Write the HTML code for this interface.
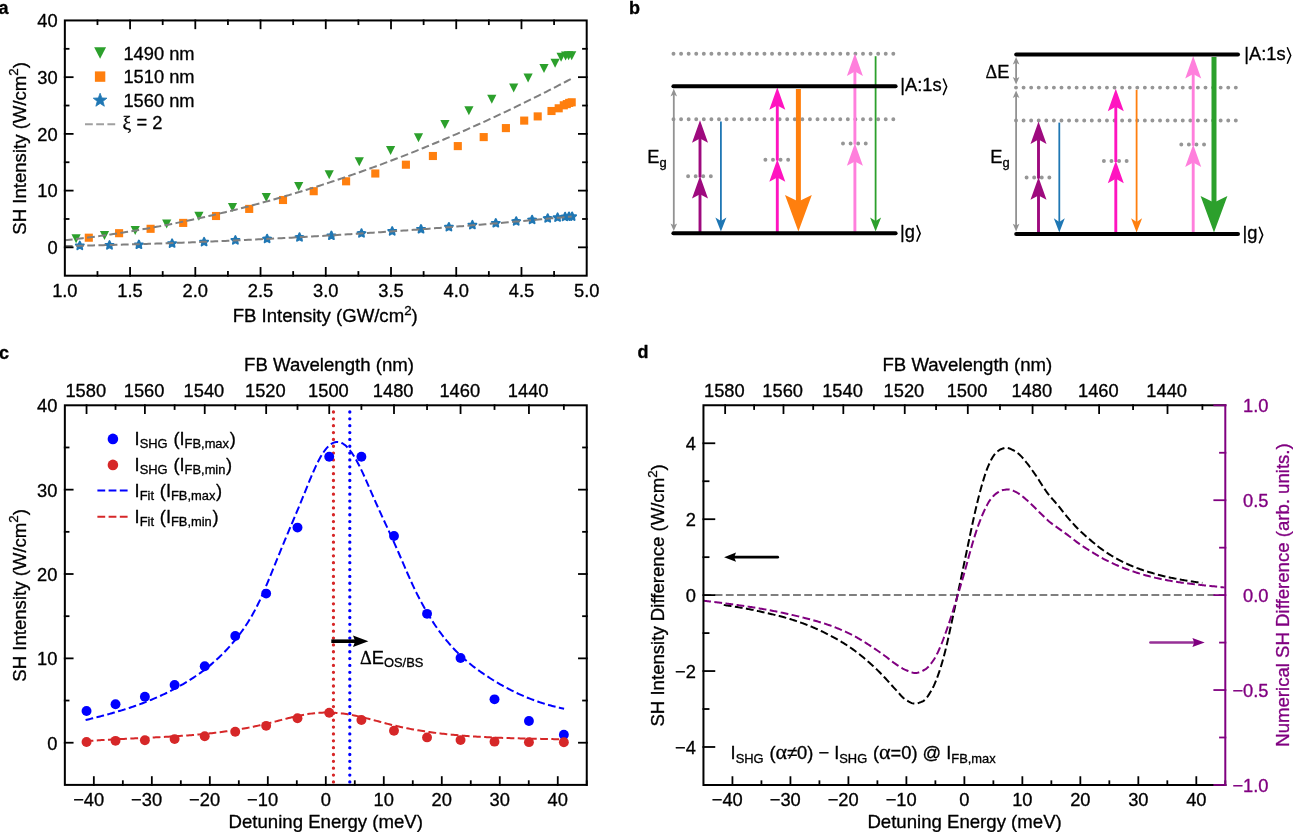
<!DOCTYPE html>
<html><head><meta charset="utf-8"><title>Figure</title>
<style>
html,body{margin:0;padding:0;background:#fff;}
body{width:1293px;height:832px;overflow:hidden;font-family:"Liberation Sans", sans-serif;}
svg{display:block;font-family:"Liberation Sans", sans-serif;will-change:transform;}
text{stroke-width:0.32px;stroke-linejoin:round;}
</style></head>
<body>
<svg width="1293" height="832" viewBox="0 0 1293 832">
<rect width="1293" height="832" fill="#fff"/>
<path d="M79.8 241.6 L80.96 244.2 L83.79 244.5 L81.68 246.41 L82.27 249.2 L79.8 247.77 L77.33 249.2 L77.92 246.41 L75.81 244.5 L78.64 244.2 Z" fill="#1f77b4" stroke="#1f77b4" stroke-width="1.9" stroke-linejoin="round"/>
<path d="M109.5 241.1 L110.66 243.7 L113.49 244 L111.38 245.91 L111.97 248.7 L109.5 247.27 L107.03 248.7 L107.62 245.91 L105.51 244 L108.34 243.7 Z" fill="#1f77b4" stroke="#1f77b4" stroke-width="1.9" stroke-linejoin="round"/>
<path d="M138.9 240.5 L140.06 243.1 L142.89 243.4 L140.78 245.31 L141.37 248.1 L138.9 246.67 L136.43 248.1 L137.02 245.31 L134.91 243.4 L137.74 243.1 Z" fill="#1f77b4" stroke="#1f77b4" stroke-width="1.9" stroke-linejoin="round"/>
<path d="M172.1 239.3 L173.26 241.9 L176.09 242.2 L173.98 244.11 L174.57 246.9 L172.1 245.47 L169.63 246.9 L170.22 244.11 L168.11 242.2 L170.94 241.9 Z" fill="#1f77b4" stroke="#1f77b4" stroke-width="1.9" stroke-linejoin="round"/>
<path d="M204.1 237.8 L205.26 240.4 L208.09 240.7 L205.98 242.61 L206.57 245.4 L204.1 243.97 L201.63 245.4 L202.22 242.61 L200.11 240.7 L202.94 240.4 Z" fill="#1f77b4" stroke="#1f77b4" stroke-width="1.9" stroke-linejoin="round"/>
<path d="M235.4 236.1 L236.56 238.7 L239.39 239 L237.28 240.91 L237.87 243.7 L235.4 242.27 L232.93 243.7 L233.52 240.91 L231.41 239 L234.24 238.7 Z" fill="#1f77b4" stroke="#1f77b4" stroke-width="1.9" stroke-linejoin="round"/>
<path d="M267.1 234.7 L268.26 237.3 L271.09 237.6 L268.98 239.51 L269.57 242.3 L267.1 240.87 L264.63 242.3 L265.22 239.51 L263.11 237.6 L265.94 237.3 Z" fill="#1f77b4" stroke="#1f77b4" stroke-width="1.9" stroke-linejoin="round"/>
<path d="M299.5 233.2 L300.66 235.8 L303.49 236.1 L301.38 238.01 L301.97 240.8 L299.5 239.37 L297.03 240.8 L297.62 238.01 L295.51 236.1 L298.34 235.8 Z" fill="#1f77b4" stroke="#1f77b4" stroke-width="1.9" stroke-linejoin="round"/>
<path d="M331.4 231.5 L332.56 234.1 L335.39 234.4 L333.28 236.31 L333.87 239.1 L331.4 237.67 L328.93 239.1 L329.52 236.31 L327.41 234.4 L330.24 234.1 Z" fill="#1f77b4" stroke="#1f77b4" stroke-width="1.9" stroke-linejoin="round"/>
<path d="M361.5 229.2 L362.66 231.8 L365.49 232.1 L363.38 234.01 L363.97 236.8 L361.5 235.37 L359.03 236.8 L359.62 234.01 L357.51 232.1 L360.34 231.8 Z" fill="#1f77b4" stroke="#1f77b4" stroke-width="1.9" stroke-linejoin="round"/>
<path d="M392.2 227.1 L393.36 229.7 L396.19 230 L394.08 231.91 L394.67 234.7 L392.2 233.27 L389.73 234.7 L390.32 231.91 L388.21 230 L391.04 229.7 Z" fill="#1f77b4" stroke="#1f77b4" stroke-width="1.9" stroke-linejoin="round"/>
<path d="M421 225 L422.16 227.6 L424.99 227.9 L422.88 229.81 L423.47 232.6 L421 231.17 L418.53 232.6 L419.12 229.81 L417.01 227.9 L419.84 227.6 Z" fill="#1f77b4" stroke="#1f77b4" stroke-width="1.9" stroke-linejoin="round"/>
<path d="M448.9 222.9 L450.06 225.5 L452.89 225.8 L450.78 227.71 L451.37 230.5 L448.9 229.07 L446.43 230.5 L447.02 227.71 L444.91 225.8 L447.74 225.5 Z" fill="#1f77b4" stroke="#1f77b4" stroke-width="1.9" stroke-linejoin="round"/>
<path d="M472.4 220.8 L473.56 223.4 L476.39 223.7 L474.28 225.61 L474.87 228.4 L472.4 226.97 L469.93 228.4 L470.52 225.61 L468.41 223.7 L471.24 223.4 Z" fill="#1f77b4" stroke="#1f77b4" stroke-width="1.9" stroke-linejoin="round"/>
<path d="M495.8 219 L496.96 221.6 L499.79 221.9 L497.68 223.81 L498.27 226.6 L495.8 225.17 L493.33 226.6 L493.92 223.81 L491.81 221.9 L494.64 221.6 Z" fill="#1f77b4" stroke="#1f77b4" stroke-width="1.9" stroke-linejoin="round"/>
<path d="M516.2 217.2 L517.36 219.8 L520.19 220.1 L518.08 222.01 L518.67 224.8 L516.2 223.37 L513.73 224.8 L514.32 222.01 L512.21 220.1 L515.04 219.8 Z" fill="#1f77b4" stroke="#1f77b4" stroke-width="1.9" stroke-linejoin="round"/>
<path d="M532.1 215.7 L533.26 218.3 L536.09 218.6 L533.98 220.51 L534.57 223.3 L532.1 221.87 L529.63 223.3 L530.22 220.51 L528.11 218.6 L530.94 218.3 Z" fill="#1f77b4" stroke="#1f77b4" stroke-width="1.9" stroke-linejoin="round"/>
<path d="M547.7 214.2 L548.86 216.8 L551.69 217.1 L549.58 219.01 L550.17 221.8 L547.7 220.37 L545.23 221.8 L545.82 219.01 L543.71 217.1 L546.54 216.8 Z" fill="#1f77b4" stroke="#1f77b4" stroke-width="1.9" stroke-linejoin="round"/>
<path d="M557.6 213.3 L558.76 215.9 L561.59 216.2 L559.48 218.11 L560.07 220.9 L557.6 219.47 L555.13 220.9 L555.72 218.11 L553.61 216.2 L556.44 215.9 Z" fill="#1f77b4" stroke="#1f77b4" stroke-width="1.9" stroke-linejoin="round"/>
<path d="M565.1 212.7 L566.26 215.3 L569.09 215.6 L566.98 217.51 L567.57 220.3 L565.1 218.87 L562.63 220.3 L563.22 217.51 L561.11 215.6 L563.94 215.3 Z" fill="#1f77b4" stroke="#1f77b4" stroke-width="1.9" stroke-linejoin="round"/>
<path d="M569 212.4 L570.16 215 L572.99 215.3 L570.88 217.21 L571.47 220 L569 218.57 L566.53 220 L567.12 217.21 L565.01 215.3 L567.84 215 Z" fill="#1f77b4" stroke="#1f77b4" stroke-width="1.9" stroke-linejoin="round"/>
<path d="M572.1 212.4 L573.26 215 L576.09 215.3 L573.98 217.21 L574.57 220 L572.1 218.57 L569.63 220 L570.22 217.21 L568.11 215.3 L570.94 215 Z" fill="#1f77b4" stroke="#1f77b4" stroke-width="1.9" stroke-linejoin="round"/>
<rect x="84.75" y="233.65" width="8.1" height="8.1" fill="#ff7f0e"/>
<rect x="115.05" y="229.15" width="8.1" height="8.1" fill="#ff7f0e"/>
<rect x="146.55" y="224.75" width="8.1" height="8.1" fill="#ff7f0e"/>
<rect x="179.15" y="218.85" width="8.1" height="8.1" fill="#ff7f0e"/>
<rect x="211.95" y="211.95" width="8.1" height="8.1" fill="#ff7f0e"/>
<rect x="245.15" y="204.85" width="8.1" height="8.1" fill="#ff7f0e"/>
<rect x="278.95" y="195.95" width="8.1" height="8.1" fill="#ff7f0e"/>
<rect x="309.65" y="187.15" width="8.1" height="8.1" fill="#ff7f0e"/>
<rect x="342.05" y="177.25" width="8.1" height="8.1" fill="#ff7f0e"/>
<rect x="371.25" y="169.45" width="8.1" height="8.1" fill="#ff7f0e"/>
<rect x="401.85" y="160.65" width="8.1" height="8.1" fill="#ff7f0e"/>
<rect x="428.85" y="151.95" width="8.1" height="8.1" fill="#ff7f0e"/>
<rect x="453.75" y="142.05" width="8.1" height="8.1" fill="#ff7f0e"/>
<rect x="479.65" y="133.05" width="8.1" height="8.1" fill="#ff7f0e"/>
<rect x="501.85" y="124.05" width="8.1" height="8.1" fill="#ff7f0e"/>
<rect x="520.15" y="116.55" width="8.1" height="8.1" fill="#ff7f0e"/>
<rect x="533.65" y="112.35" width="8.1" height="8.1" fill="#ff7f0e"/>
<rect x="547.45" y="106.95" width="8.1" height="8.1" fill="#ff7f0e"/>
<rect x="554.65" y="104.25" width="8.1" height="8.1" fill="#ff7f0e"/>
<rect x="559.75" y="101.25" width="8.1" height="8.1" fill="#ff7f0e"/>
<rect x="562.75" y="100.05" width="8.1" height="8.1" fill="#ff7f0e"/>
<rect x="565.15" y="98.85" width="8.1" height="8.1" fill="#ff7f0e"/>
<rect x="567.65" y="98.25" width="8.1" height="8.1" fill="#ff7f0e"/>
<path d="M71.5 234.3 L80.7 234.3 L76.1 243.3 Z" fill="#2ca02c"/>
<path d="M99.9 230.9 L109.1 230.9 L104.5 239.9 Z" fill="#2ca02c"/>
<path d="M130.6 225.9 L139.8 225.9 L135.2 234.9 Z" fill="#2ca02c"/>
<path d="M162.1 219.6 L171.3 219.6 L166.7 228.6 Z" fill="#2ca02c"/>
<path d="M194.3 211.7 L203.5 211.7 L198.9 220.7 Z" fill="#2ca02c"/>
<path d="M227.9 202.9 L237.1 202.9 L232.5 211.9 Z" fill="#2ca02c"/>
<path d="M261.7 192.9 L270.9 192.9 L266.3 201.9 Z" fill="#2ca02c"/>
<path d="M294.1 182.1 L303.3 182.1 L298.7 191.1 Z" fill="#2ca02c"/>
<path d="M324.6 170.3 L333.8 170.3 L329.2 179.3 Z" fill="#2ca02c"/>
<path d="M354.7 157.2 L363.9 157.2 L359.3 166.2 Z" fill="#2ca02c"/>
<path d="M386 146.1 L395.2 146.1 L390.6 155.1 Z" fill="#2ca02c"/>
<path d="M413.9 133.2 L423.1 133.2 L418.5 142.2 Z" fill="#2ca02c"/>
<path d="M440.3 120 L449.5 120 L444.9 129 Z" fill="#2ca02c"/>
<path d="M464.3 106.2 L473.5 106.2 L468.9 115.2 Z" fill="#2ca02c"/>
<path d="M487.2 94.8 L496.4 94.8 L491.8 103.8 Z" fill="#2ca02c"/>
<path d="M509.1 83.4 L518.3 83.4 L513.7 92.4 Z" fill="#2ca02c"/>
<path d="M523.5 73.5 L532.7 73.5 L528.1 82.5 Z" fill="#2ca02c"/>
<path d="M539.4 64.1 L548.6 64.1 L544 73.1 Z" fill="#2ca02c"/>
<path d="M550.5 58.7 L559.7 58.7 L555.1 67.7 Z" fill="#2ca02c"/>
<path d="M556.5 52.7 L565.7 52.7 L561.1 61.7 Z" fill="#2ca02c"/>
<path d="M561 51.5 L570.2 51.5 L565.6 60.5 Z" fill="#2ca02c"/>
<path d="M564 51.2 L573.2 51.2 L568.6 60.2 Z" fill="#2ca02c"/>
<path d="M567.1 51.2 L576.3 51.2 L571.7 60.2 Z" fill="#2ca02c"/>
<path d="M64.85 240.27 L67.4 239.99 L69.94 239.7 L72.49 239.41 L75.04 239.12 L77.58 238.82 L80.13 238.51 L82.68 238.2 L85.23 237.88 L87.77 237.56 L90.32 237.23 L92.87 236.9 L95.41 236.56 L97.96 236.22 L100.51 235.87 L103.05 235.52 L105.6 235.16 L108.15 234.79 L110.7 234.42 L113.24 234.05 L115.79 233.66 L118.34 233.28 L120.88 232.88 L123.43 232.49 L125.98 232.08 L128.52 231.68 L131.07 231.26 L133.62 230.84 L136.17 230.42 L138.71 229.99 L141.26 229.55 L143.81 229.11 L146.35 228.67 L148.9 228.22 L151.45 227.76 L153.99 227.3 L156.54 226.83 L159.09 226.36 L161.63 225.88 L164.18 225.39 L166.73 224.91 L169.28 224.41 L171.82 223.91 L174.37 223.41 L176.92 222.89 L179.46 222.38 L182.01 221.86 L184.56 221.33 L187.1 220.8 L189.65 220.26 L192.2 219.72 L194.75 219.17 L197.29 218.61 L199.84 218.06 L202.39 217.49 L204.93 216.92 L207.48 216.35 L210.03 215.76 L212.57 215.18 L215.12 214.59 L217.67 213.99 L220.22 213.39 L222.76 212.78 L225.31 212.17 L227.86 211.55 L230.4 210.92 L232.95 210.29 L235.5 209.66 L238.04 209.02 L240.59 208.37 L243.14 207.72 L245.68 207.07 L248.23 206.41 L250.78 205.74 L253.33 205.07 L255.87 204.39 L258.42 203.7 L260.97 203.02 L263.51 202.32 L266.06 201.62 L268.61 200.92 L271.15 200.21 L273.7 199.49 L276.25 198.77 L278.8 198.04 L281.34 197.31 L283.89 196.58 L286.44 195.83 L288.98 195.09 L291.53 194.33 L294.08 193.57 L296.62 192.81 L299.17 192.04 L301.72 191.26 L304.27 190.48 L306.81 189.7 L309.36 188.91 L311.91 188.11 L314.45 187.31 L317 186.5 L319.55 185.69 L322.09 184.87 L324.64 184.05 L327.19 183.22 L329.73 182.38 L332.28 181.55 L334.83 180.7 L337.38 179.85 L339.92 178.99 L342.47 178.13 L345.02 177.27 L347.56 176.39 L350.11 175.52 L352.66 174.63 L355.2 173.75 L357.75 172.85 L360.3 171.95 L362.85 171.05 L365.39 170.14 L367.94 169.22 L370.49 168.3 L373.03 167.38 L375.58 166.45 L378.13 165.51 L380.67 164.57 L383.22 163.62 L385.77 162.67 L388.32 161.71 L390.86 160.75 L393.41 159.78 L395.96 158.8 L398.5 157.82 L401.05 156.84 L403.6 155.85 L406.14 154.85 L408.69 153.85 L411.24 152.84 L413.78 151.83 L416.33 150.81 L418.88 149.79 L421.43 148.76 L423.97 147.73 L426.52 146.69 L429.07 145.64 L431.61 144.6 L434.16 143.54 L436.71 142.48 L439.25 141.41 L441.8 140.34 L444.35 139.26 L446.9 138.18 L449.44 137.09 L451.99 136 L454.54 134.9 L457.08 133.8 L459.63 132.69 L462.18 131.58 L464.72 130.46 L467.27 129.33 L469.82 128.2 L472.37 127.06 L474.91 125.92 L477.46 124.78 L480.01 123.62 L482.55 122.47 L485.1 121.3 L487.65 120.13 L490.19 118.96 L492.74 117.78 L495.29 116.6 L497.83 115.41 L500.38 114.21 L502.93 113.01 L505.48 111.8 L508.02 110.59 L510.57 109.37 L513.12 108.15 L515.66 106.92 L518.21 105.69 L520.76 104.45 L523.3 103.21 L525.85 101.96 L528.4 100.7 L530.95 99.44 L533.49 98.18 L536.04 96.91 L538.59 95.63 L541.13 94.35 L543.68 93.06 L546.23 91.77 L548.77 90.47 L551.32 89.17 L553.87 87.86 L556.41 86.55 L558.96 85.23 L561.51 83.9 L564.06 82.57 L566.6 81.24 L569.15 79.89 L571.7 78.55" fill="none" stroke="#7f7f7f" stroke-width="2" stroke-dasharray="7.8 3.4" />
<path d="M64.85 246.04 L67.4 245.99 L69.94 245.94 L72.49 245.89 L75.04 245.83 L77.58 245.78 L80.13 245.72 L82.68 245.66 L85.23 245.61 L87.77 245.55 L90.32 245.49 L92.87 245.43 L95.41 245.36 L97.96 245.3 L100.51 245.24 L103.05 245.17 L105.6 245.11 L108.15 245.04 L110.7 244.97 L113.24 244.9 L115.79 244.83 L118.34 244.76 L120.88 244.69 L123.43 244.62 L125.98 244.54 L128.52 244.47 L131.07 244.39 L133.62 244.32 L136.17 244.24 L138.71 244.16 L141.26 244.08 L143.81 244 L146.35 243.92 L148.9 243.83 L151.45 243.75 L153.99 243.67 L156.54 243.58 L159.09 243.49 L161.63 243.41 L164.18 243.32 L166.73 243.23 L169.28 243.14 L171.82 243.05 L174.37 242.95 L176.92 242.86 L179.46 242.77 L182.01 242.67 L184.56 242.57 L187.1 242.48 L189.65 242.38 L192.2 242.28 L194.75 242.18 L197.29 242.08 L199.84 241.97 L202.39 241.87 L204.93 241.77 L207.48 241.66 L210.03 241.55 L212.57 241.45 L215.12 241.34 L217.67 241.23 L220.22 241.12 L222.76 241.01 L225.31 240.89 L227.86 240.78 L230.4 240.67 L232.95 240.55 L235.5 240.43 L238.04 240.32 L240.59 240.2 L243.14 240.08 L245.68 239.96 L248.23 239.84 L250.78 239.72 L253.33 239.59 L255.87 239.47 L258.42 239.34 L260.97 239.22 L263.51 239.09 L266.06 238.96 L268.61 238.83 L271.15 238.7 L273.7 238.57 L276.25 238.44 L278.8 238.31 L281.34 238.17 L283.89 238.04 L286.44 237.9 L288.98 237.76 L291.53 237.63 L294.08 237.49 L296.62 237.35 L299.17 237.21 L301.72 237.06 L304.27 236.92 L306.81 236.78 L309.36 236.63 L311.91 236.49 L314.45 236.34 L317 236.19 L319.55 236.04 L322.09 235.89 L324.64 235.74 L327.19 235.59 L329.73 235.44 L332.28 235.28 L334.83 235.13 L337.38 234.97 L339.92 234.82 L342.47 234.66 L345.02 234.5 L347.56 234.34 L350.11 234.18 L352.66 234.02 L355.2 233.85 L357.75 233.69 L360.3 233.53 L362.85 233.36 L365.39 233.19 L367.94 233.03 L370.49 232.86 L373.03 232.69 L375.58 232.52 L378.13 232.34 L380.67 232.17 L383.22 232 L385.77 231.82 L388.32 231.65 L390.86 231.47 L393.41 231.29 L395.96 231.12 L398.5 230.94 L401.05 230.76 L403.6 230.57 L406.14 230.39 L408.69 230.21 L411.24 230.02 L413.78 229.84 L416.33 229.65 L418.88 229.46 L421.43 229.28 L423.97 229.09 L426.52 228.9 L429.07 228.7 L431.61 228.51 L434.16 228.32 L436.71 228.12 L439.25 227.93 L441.8 227.73 L444.35 227.54 L446.9 227.34 L449.44 227.14 L451.99 226.94 L454.54 226.74 L457.08 226.53 L459.63 226.33 L462.18 226.13 L464.72 225.92 L467.27 225.72 L469.82 225.51 L472.37 225.3 L474.91 225.09 L477.46 224.88 L480.01 224.67 L482.55 224.46 L485.1 224.24 L487.65 224.03 L490.19 223.81 L492.74 223.6 L495.29 223.38 L497.83 223.16 L500.38 222.94 L502.93 222.72 L505.48 222.5 L508.02 222.28 L510.57 222.06 L513.12 221.83 L515.66 221.61 L518.21 221.38 L520.76 221.16 L523.3 220.93 L525.85 220.7 L528.4 220.47 L530.95 220.24 L533.49 220.01 L536.04 219.77 L538.59 219.54 L541.13 219.31 L543.68 219.07 L546.23 218.83 L548.77 218.59 L551.32 218.36 L553.87 218.12 L556.41 217.88 L558.96 217.63 L561.51 217.39 L564.06 217.15 L566.6 216.9 L569.15 216.66 L571.7 216.41" fill="none" stroke="#7f7f7f" stroke-width="2" stroke-dasharray="7.8 3.4" />
<rect x="64.85" y="20.45" width="521.85" height="255.25" fill="none" stroke="#000" stroke-width="2"/>
<line x1="130.08" y1="276.7" x2="130.08" y2="267" stroke="#000" stroke-width="1.8" />
<line x1="195.31" y1="276.7" x2="195.31" y2="267" stroke="#000" stroke-width="1.8" />
<line x1="260.54" y1="276.7" x2="260.54" y2="267" stroke="#000" stroke-width="1.8" />
<line x1="325.77" y1="276.7" x2="325.77" y2="267" stroke="#000" stroke-width="1.8" />
<line x1="391.01" y1="276.7" x2="391.01" y2="267" stroke="#000" stroke-width="1.8" />
<line x1="456.24" y1="276.7" x2="456.24" y2="267" stroke="#000" stroke-width="1.8" />
<line x1="521.47" y1="276.7" x2="521.47" y2="267" stroke="#000" stroke-width="1.8" />
<line x1="97.47" y1="276.7" x2="97.47" y2="271.1" stroke="#000" stroke-width="1.8" />
<line x1="162.7" y1="276.7" x2="162.7" y2="271.1" stroke="#000" stroke-width="1.8" />
<line x1="227.93" y1="276.7" x2="227.93" y2="271.1" stroke="#000" stroke-width="1.8" />
<line x1="293.16" y1="276.7" x2="293.16" y2="271.1" stroke="#000" stroke-width="1.8" />
<line x1="358.39" y1="276.7" x2="358.39" y2="271.1" stroke="#000" stroke-width="1.8" />
<line x1="423.62" y1="276.7" x2="423.62" y2="271.1" stroke="#000" stroke-width="1.8" />
<line x1="488.85" y1="276.7" x2="488.85" y2="271.1" stroke="#000" stroke-width="1.8" />
<line x1="554.08" y1="276.7" x2="554.08" y2="271.1" stroke="#000" stroke-width="1.8" />
<line x1="130.08" y1="19.45" x2="130.08" y2="29.15" stroke="#000" stroke-width="1.8" />
<line x1="195.31" y1="19.45" x2="195.31" y2="29.15" stroke="#000" stroke-width="1.8" />
<line x1="260.54" y1="19.45" x2="260.54" y2="29.15" stroke="#000" stroke-width="1.8" />
<line x1="325.77" y1="19.45" x2="325.77" y2="29.15" stroke="#000" stroke-width="1.8" />
<line x1="391.01" y1="19.45" x2="391.01" y2="29.15" stroke="#000" stroke-width="1.8" />
<line x1="456.24" y1="19.45" x2="456.24" y2="29.15" stroke="#000" stroke-width="1.8" />
<line x1="521.47" y1="19.45" x2="521.47" y2="29.15" stroke="#000" stroke-width="1.8" />
<line x1="97.47" y1="19.45" x2="97.47" y2="25.05" stroke="#000" stroke-width="1.8" />
<line x1="162.7" y1="19.45" x2="162.7" y2="25.05" stroke="#000" stroke-width="1.8" />
<line x1="227.93" y1="19.45" x2="227.93" y2="25.05" stroke="#000" stroke-width="1.8" />
<line x1="293.16" y1="19.45" x2="293.16" y2="25.05" stroke="#000" stroke-width="1.8" />
<line x1="358.39" y1="19.45" x2="358.39" y2="25.05" stroke="#000" stroke-width="1.8" />
<line x1="423.62" y1="19.45" x2="423.62" y2="25.05" stroke="#000" stroke-width="1.8" />
<line x1="488.85" y1="19.45" x2="488.85" y2="25.05" stroke="#000" stroke-width="1.8" />
<line x1="554.08" y1="19.45" x2="554.08" y2="25.05" stroke="#000" stroke-width="1.8" />
<line x1="63.85" y1="247.34" x2="73.55" y2="247.34" stroke="#000" stroke-width="1.8" />
<line x1="63.85" y1="190.62" x2="73.55" y2="190.62" stroke="#000" stroke-width="1.8" />
<line x1="63.85" y1="133.89" x2="73.55" y2="133.89" stroke="#000" stroke-width="1.8" />
<line x1="63.85" y1="77.17" x2="73.55" y2="77.17" stroke="#000" stroke-width="1.8" />
<line x1="63.85" y1="218.98" x2="69.45" y2="218.98" stroke="#000" stroke-width="1.8" />
<line x1="63.85" y1="162.26" x2="69.45" y2="162.26" stroke="#000" stroke-width="1.8" />
<line x1="63.85" y1="105.53" x2="69.45" y2="105.53" stroke="#000" stroke-width="1.8" />
<line x1="63.85" y1="48.81" x2="69.45" y2="48.81" stroke="#000" stroke-width="1.8" />
<line x1="587.7" y1="247.34" x2="578" y2="247.34" stroke="#000" stroke-width="1.8" />
<line x1="587.7" y1="190.62" x2="578" y2="190.62" stroke="#000" stroke-width="1.8" />
<line x1="587.7" y1="133.89" x2="578" y2="133.89" stroke="#000" stroke-width="1.8" />
<line x1="587.7" y1="77.17" x2="578" y2="77.17" stroke="#000" stroke-width="1.8" />
<line x1="587.7" y1="218.98" x2="582.1" y2="218.98" stroke="#000" stroke-width="1.8" />
<line x1="587.7" y1="162.26" x2="582.1" y2="162.26" stroke="#000" stroke-width="1.8" />
<line x1="587.7" y1="105.53" x2="582.1" y2="105.53" stroke="#000" stroke-width="1.8" />
<line x1="587.7" y1="48.81" x2="582.1" y2="48.81" stroke="#000" stroke-width="1.8" />
<text x="64.85" y="297.3" font-size="18.3" text-anchor="middle" fill="#000" stroke="#000" font-weight="normal" >1.0</text>
<text x="130.08" y="297.3" font-size="18.3" text-anchor="middle" fill="#000" stroke="#000" font-weight="normal" >1.5</text>
<text x="195.31" y="297.3" font-size="18.3" text-anchor="middle" fill="#000" stroke="#000" font-weight="normal" >2.0</text>
<text x="260.54" y="297.3" font-size="18.3" text-anchor="middle" fill="#000" stroke="#000" font-weight="normal" >2.5</text>
<text x="325.77" y="297.3" font-size="18.3" text-anchor="middle" fill="#000" stroke="#000" font-weight="normal" >3.0</text>
<text x="391.01" y="297.3" font-size="18.3" text-anchor="middle" fill="#000" stroke="#000" font-weight="normal" >3.5</text>
<text x="456.24" y="297.3" font-size="18.3" text-anchor="middle" fill="#000" stroke="#000" font-weight="normal" >4.0</text>
<text x="521.47" y="297.3" font-size="18.3" text-anchor="middle" fill="#000" stroke="#000" font-weight="normal" >4.5</text>
<text x="586.7" y="297.3" font-size="18.3" text-anchor="middle" fill="#000" stroke="#000" font-weight="normal" >5.0</text>
<text x="57.6" y="254.04" font-size="18.3" text-anchor="end" fill="#000" stroke="#000" font-weight="normal" >0</text>
<text x="57.6" y="197.32" font-size="18.3" text-anchor="end" fill="#000" stroke="#000" font-weight="normal" >10</text>
<text x="57.6" y="140.59" font-size="18.3" text-anchor="end" fill="#000" stroke="#000" font-weight="normal" >20</text>
<text x="57.6" y="83.87" font-size="18.3" text-anchor="end" fill="#000" stroke="#000" font-weight="normal" >30</text>
<text x="57.6" y="27.15" font-size="18.3" text-anchor="end" fill="#000" stroke="#000" font-weight="normal" >40</text>
<text x="325.2" y="322.4" font-size="18.6" text-anchor="middle" fill="#000" stroke="#000" font-weight="normal" >FB Intensity (GW/cm<tspan font-size="13.3" dy="-7.3">2</tspan><tspan dy="7.3" font-size="1">&#8203;</tspan>)</text>
<text transform="translate(25.7 148.4) rotate(-90)" font-size="18.6" text-anchor="middle" fill="#000" stroke="#000">SH Intensity (W/cm<tspan font-size="13.3" dy="-7.3">2</tspan><tspan dy="7.3" font-size="1">&#8203;</tspan>)</text>
<path d="M94.15 47.3 L106.05 47.3 L100.1 58.7 Z" fill="#2ca02c"/>
<rect x="94.9" y="71.4" width="10.4" height="10.4" fill="#ff7f0e"/>
<path d="M100.1 93.2 L101.88 97.95 L106.95 98.18 L102.98 101.33 L104.33 106.22 L100.1 103.42 L95.87 106.22 L97.22 101.33 L93.25 98.18 L98.32 97.95 Z" fill="#1f77b4" stroke="#1f77b4" stroke-width="0.8" stroke-linejoin="round"/>
<line x1="85" y1="124.15" x2="115.5" y2="124.15" stroke="#a0a0a0" stroke-width="2" stroke-dasharray="7.8 3.4"/>
<text x="123.4" y="59.6" font-size="18.3" text-anchor="start" fill="#000" stroke="#000" font-weight="normal" >1490 nm</text>
<text x="123.4" y="83.2" font-size="18.3" text-anchor="start" fill="#000" stroke="#000" font-weight="normal" >1510 nm</text>
<text x="123.4" y="106.8" font-size="18.3" text-anchor="start" fill="#000" stroke="#000" font-weight="normal" >1560 nm</text>
<text x="122.6" y="129.3" font-size="18.3" stroke="#000"><tspan font-family='"Liberation Serif", serif' font-size="19.5">&#958;</tspan> <tspan dy="-1.2">=</tspan><tspan dy="1.2"> 2</tspan></text>
<text x="-1.4" y="14.4" font-size="18" text-anchor="start" fill="#000" stroke="#000" font-weight="bold" >a</text>
<path d="M673.5 53.7 H893.33" stroke="#969696" stroke-width="3.95" stroke-linecap="round" stroke-dasharray="0 7.58" fill="none"/>
<path d="M673.5 119.3 H893.33" stroke="#969696" stroke-width="3.95" stroke-linecap="round" stroke-dasharray="0 7.58" fill="none"/>
<path d="M688.1 176.2 H710.85" stroke="#969696" stroke-width="3.95" stroke-linecap="round" stroke-dasharray="0 7.58" fill="none"/>
<path d="M765.4 159.8 H788.15" stroke="#969696" stroke-width="3.95" stroke-linecap="round" stroke-dasharray="0 7.58" fill="none"/>
<path d="M843 143.5 H865.75" stroke="#969696" stroke-width="3.95" stroke-linecap="round" stroke-dasharray="0 7.58" fill="none"/>
<line x1="700" y1="232.3" x2="700" y2="193.7" stroke="#9e0a7e" stroke-width="2.9" />
<path d="M700 176.1 L692 198.6 L700 194.2 L708 198.6 Z" fill="#9e0a7e"/>
<line x1="700" y1="177.4" x2="700" y2="137.9" stroke="#9e0a7e" stroke-width="2.9" />
<path d="M700 120.3 L692 142.8 L700 138.4 L708 142.8 Z" fill="#9e0a7e"/>
<line x1="777.3" y1="232.3" x2="777.3" y2="176.9" stroke="#ff14c0" stroke-width="2.9" />
<path d="M777.3 159.3 L769.3 181.8 L777.3 177.4 L785.3 181.8 Z" fill="#ff14c0"/>
<line x1="777.3" y1="160.6" x2="777.3" y2="104.9" stroke="#ff14c0" stroke-width="2.9" />
<path d="M777.3 87.3 L769.3 109.8 L777.3 105.4 L785.3 109.8 Z" fill="#ff14c0"/>
<line x1="854.9" y1="232.3" x2="854.9" y2="160.9" stroke="#ff7fdc" stroke-width="2.9" />
<path d="M854.9 143.3 L846.9 165.8 L854.9 161.4 L862.9 165.8 Z" fill="#ff7fdc"/>
<line x1="854.9" y1="144.6" x2="854.9" y2="71.1" stroke="#ff7fdc" stroke-width="2.9" />
<path d="M854.9 53.5 L846.9 76 L854.9 71.6 L862.9 76 Z" fill="#ff7fdc"/>
<line x1="720.9" y1="121.4" x2="720.9" y2="221.5" stroke="#1f77b4" stroke-width="1.8" />
<path d="M720.9 231.6 L715.4 217.4 L720.9 221 L726.4 217.4 Z" fill="#1f77b4"/>
<line x1="798.4" y1="89" x2="798.4" y2="202.1" stroke="#ff7f0e" stroke-width="5" />
<path d="M798.4 231.6 L785 195 L798.4 201.6 L811.8 195 Z" fill="#ff7f0e"/>
<line x1="875.6" y1="56.2" x2="875.6" y2="221.5" stroke="#2ca02c" stroke-width="1.8" />
<path d="M875.6 231.6 L870.1 217.4 L875.6 221 L881.1 217.4 Z" fill="#2ca02c"/>
<line x1="673.8" y1="91.8" x2="673.8" y2="228" stroke="#929292" stroke-width="1.8" />
<path d="M673.8 88.8 L670.5 96.4 L673.8 94.6 L677.1 96.4 Z" fill="#929292"/>
<path d="M673.8 231 L670.5 223.4 L673.8 225.2 L677.1 223.4 Z" fill="#929292"/>
<line x1="673.4" y1="86.3" x2="895.6" y2="86.3" stroke="#000" stroke-width="4" stroke-linecap="round"/>
<line x1="673.4" y1="233.3" x2="895.6" y2="233.3" stroke="#000" stroke-width="4" stroke-linecap="round"/>
<path d="M1016 87.6 H1235.83" stroke="#969696" stroke-width="3.95" stroke-linecap="round" stroke-dasharray="0 7.58" fill="none"/>
<path d="M1016 120.5 H1235.83" stroke="#969696" stroke-width="3.95" stroke-linecap="round" stroke-dasharray="0 7.58" fill="none"/>
<path d="M1026.6 177.4 H1049.35" stroke="#969696" stroke-width="3.95" stroke-linecap="round" stroke-dasharray="0 7.58" fill="none"/>
<path d="M1103.9 160.9 H1126.65" stroke="#969696" stroke-width="3.95" stroke-linecap="round" stroke-dasharray="0 7.58" fill="none"/>
<path d="M1181.3 144.5 H1204.05" stroke="#969696" stroke-width="3.95" stroke-linecap="round" stroke-dasharray="0 7.58" fill="none"/>
<line x1="1038.5" y1="233" x2="1038.5" y2="194.9" stroke="#9e0a7e" stroke-width="2.9" />
<path d="M1038.5 177.3 L1030.5 199.8 L1038.5 195.4 L1046.5 199.8 Z" fill="#9e0a7e"/>
<line x1="1038.5" y1="178.6" x2="1038.5" y2="139.1" stroke="#9e0a7e" stroke-width="2.9" />
<path d="M1038.5 121.5 L1030.5 144 L1038.5 139.6 L1046.5 144 Z" fill="#9e0a7e"/>
<line x1="1115.8" y1="233" x2="1115.8" y2="178.3" stroke="#ff14c0" stroke-width="2.9" />
<path d="M1115.8 160.7 L1107.8 183.2 L1115.8 178.8 L1123.8 183.2 Z" fill="#ff14c0"/>
<line x1="1115.8" y1="162" x2="1115.8" y2="106.3" stroke="#ff14c0" stroke-width="2.9" />
<path d="M1115.8 88.7 L1107.8 111.2 L1115.8 106.8 L1123.8 111.2 Z" fill="#ff14c0"/>
<line x1="1193.2" y1="233" x2="1193.2" y2="162.1" stroke="#ff7fdc" stroke-width="2.9" />
<path d="M1193.2 144.5 L1185.2 167 L1193.2 162.6 L1201.2 167 Z" fill="#ff7fdc"/>
<line x1="1193.2" y1="145.8" x2="1193.2" y2="73.5" stroke="#ff7fdc" stroke-width="2.9" />
<path d="M1193.2 55.9 L1185.2 78.4 L1193.2 74 L1201.2 78.4 Z" fill="#ff7fdc"/>
<line x1="1059.3" y1="122.6" x2="1059.3" y2="222.4" stroke="#1f77b4" stroke-width="1.8" />
<path d="M1059.3 232.5 L1053.8 218.3 L1059.3 221.9 L1064.8 218.3 Z" fill="#1f77b4"/>
<line x1="1136.6" y1="89.8" x2="1136.6" y2="222.4" stroke="#ff7f0e" stroke-width="1.8" />
<path d="M1136.6 232.5 L1131.1 218.3 L1136.6 221.9 L1142.1 218.3 Z" fill="#ff7f0e"/>
<line x1="1214" y1="57" x2="1214" y2="203" stroke="#2ca02c" stroke-width="5" />
<path d="M1214 232.5 L1200.6 195.9 L1214 202.5 L1227.4 195.9 Z" fill="#2ca02c"/>
<line x1="1016.1" y1="60" x2="1016.1" y2="81.6" stroke="#929292" stroke-width="1.8" />
<path d="M1016.1 57 L1012.8 64.6 L1016.1 62.8 L1019.4 64.6 Z" fill="#929292"/>
<path d="M1016.1 84.6 L1012.8 77 L1016.1 78.8 L1019.4 77 Z" fill="#929292"/>
<line x1="1016.1" y1="93.4" x2="1016.1" y2="228.4" stroke="#929292" stroke-width="1.8" />
<path d="M1016.1 90.4 L1012.8 98 L1016.1 96.2 L1019.4 98 Z" fill="#929292"/>
<path d="M1016.1 231.4 L1012.8 223.8 L1016.1 225.6 L1019.4 223.8 Z" fill="#929292"/>
<line x1="1016.2" y1="54.4" x2="1238" y2="54.4" stroke="#000" stroke-width="4" stroke-linecap="round"/>
<line x1="1016.2" y1="234" x2="1238" y2="234" stroke="#000" stroke-width="4" stroke-linecap="round"/>
<text x="900.3" y="91.1" font-size="18.3" text-anchor="start" fill="#000" stroke="#000" font-weight="normal" >|A:1s</text>
<path d="M943.2 78.5 L946.7 86.8 L943.2 95.1" fill="none" stroke="#000" stroke-width="1.5"/>
<text x="900.1" y="237.7" font-size="18.3" text-anchor="start" fill="#000" stroke="#000" font-weight="normal" >|g</text>
<path d="M916.7 225.1 L920.2 233.4 L916.7 241.7" fill="none" stroke="#000" stroke-width="1.5"/>
<text x="1244.3" y="59.8" font-size="18.3" text-anchor="start" fill="#000" stroke="#000" font-weight="normal" >|A:1s</text>
<path d="M1287.2 47.2 L1290.7 55.5 L1287.2 63.8" fill="none" stroke="#000" stroke-width="1.5"/>
<text x="1242.6" y="239.4" font-size="18.3" text-anchor="start" fill="#000" stroke="#000" font-weight="normal" >|g</text>
<path d="M1259.2 226.8 L1262.7 235.1 L1259.2 243.4" fill="none" stroke="#000" stroke-width="1.5"/>
<text x="647.3" y="163.2" font-size="18.3" text-anchor="start" fill="#000" stroke="#000" font-weight="normal" >E<tspan dx="0.6"></tspan><tspan font-size="12.9" dy="4.2">g</tspan><tspan dy="-4.2" dx="0.7" font-size="1">&#8203;</tspan></text>
<text x="990.3" y="163" font-size="18.3" text-anchor="start" fill="#000" stroke="#000" font-weight="normal" >E<tspan dx="0.6"></tspan><tspan font-size="12.9" dy="4.2">g</tspan><tspan dy="-4.2" dx="0.7" font-size="1">&#8203;</tspan></text>
<text x="985.6" y="77.6" font-size="18.3" text-anchor="start" fill="#000" stroke="#000" font-weight="normal" ><tspan font-family='"Liberation Serif", serif'>&#916;</tspan>E</text>
<text x="629.1" y="13.8" font-size="18" text-anchor="start" fill="#000" stroke="#000" font-weight="bold" >b</text>
<path d="M85.6 720.09 L86.8 719.8 L88 719.5 L89.2 719.2 L90.4 718.89 L91.6 718.59 L92.8 718.29 L93.99 717.98 L95.19 717.68 L96.39 717.37 L97.59 717.06 L98.79 716.75 L99.99 716.43 L101.19 716.12 L102.39 715.8 L103.59 715.48 L104.79 715.16 L105.99 714.84 L107.19 714.51 L108.39 714.18 L109.58 713.85 L110.78 713.51 L111.98 713.17 L113.18 712.83 L114.38 712.49 L115.58 712.14 L116.78 711.79 L117.98 711.44 L119.18 711.08 L120.38 710.72 L121.58 710.36 L122.78 709.99 L123.98 709.61 L125.18 709.24 L126.37 708.86 L127.57 708.47 L128.77 708.08 L129.97 707.69 L131.17 707.29 L132.37 706.88 L133.57 706.48 L134.77 706.06 L135.97 705.64 L137.17 705.22 L138.37 704.79 L139.57 704.36 L140.77 703.92 L141.96 703.47 L143.16 703.02 L144.36 702.57 L145.56 702.1 L146.76 701.64 L147.96 701.16 L149.16 700.68 L150.36 700.19 L151.56 699.7 L152.76 699.2 L153.96 698.69 L155.16 698.18 L156.36 697.66 L157.55 697.13 L158.75 696.6 L159.95 696.06 L161.15 695.51 L162.35 694.95 L163.55 694.39 L164.75 693.82 L165.95 693.24 L167.15 692.65 L168.35 692.06 L169.55 691.46 L170.75 690.85 L171.95 690.23 L173.15 689.6 L174.34 688.97 L175.54 688.32 L176.74 687.67 L177.94 687.01 L179.14 686.34 L180.34 685.66 L181.54 684.97 L182.74 684.28 L183.94 683.57 L185.14 682.85 L186.34 682.13 L187.54 681.39 L188.74 680.65 L189.93 679.9 L191.13 679.13 L192.33 678.36 L193.53 677.57 L194.73 676.77 L195.93 675.96 L197.13 675.14 L198.33 674.3 L199.53 673.46 L200.73 672.59 L201.93 671.72 L203.13 670.83 L204.33 669.92 L205.52 669 L206.72 668.06 L207.92 667.1 L209.12 666.13 L210.32 665.14 L211.52 664.13 L212.72 663.11 L213.92 662.06 L215.12 661 L216.32 659.92 L217.52 658.81 L218.72 657.69 L219.92 656.54 L221.12 655.38 L222.31 654.19 L223.51 652.98 L224.71 651.74 L225.91 650.49 L227.11 649.21 L228.31 647.9 L229.51 646.57 L230.71 645.21 L231.91 643.83 L233.11 642.43 L234.31 640.99 L235.51 639.53 L236.71 638.04 L237.9 636.52 L239.1 634.97 L240.3 633.38 L241.5 631.75 L242.7 630.09 L243.9 628.38 L245.1 626.62 L246.3 624.81 L247.5 622.96 L248.7 621.05 L249.9 619.08 L251.1 617.06 L252.3 614.98 L253.49 612.83 L254.69 610.62 L255.89 608.34 L257.09 605.99 L258.29 603.56 L259.49 601.06 L260.69 598.48 L261.89 595.83 L263.09 593.12 L264.29 590.35 L265.49 587.54 L266.69 584.69 L267.89 581.82 L269.08 578.92 L270.28 576 L271.48 573.07 L272.68 570.12 L273.88 567.16 L275.08 564.2 L276.28 561.23 L277.48 558.26 L278.68 555.3 L279.88 552.34 L281.08 549.39 L282.28 546.46 L283.48 543.54 L284.68 540.64 L285.87 537.77 L287.07 534.91 L288.27 532.06 L289.47 529.23 L290.67 526.4 L291.87 523.57 L293.07 520.75 L294.27 517.92 L295.47 515.08 L296.67 512.23 L297.87 509.37 L299.07 506.5 L300.27 503.6 L301.46 500.68 L302.66 497.73 L303.86 494.76 L305.06 491.78 L306.26 488.8 L307.46 485.83 L308.66 482.87 L309.86 479.95 L311.06 477.07 L312.26 474.25 L313.46 471.49 L314.66 468.8 L315.86 466.19 L317.05 463.69 L318.25 461.29 L319.45 459.01 L320.65 456.85 L321.85 454.83 L323.05 452.95 L324.25 451.21 L325.45 449.61 L326.65 448.15 L327.85 446.84 L329.05 445.68 L330.25 444.67 L331.45 443.82 L332.65 443.11 L333.84 442.57 L335.04 442.18 L336.24 441.96 L337.44 441.9 L338.64 442 L339.84 442.26 L341.04 442.68 L342.24 443.25 L343.44 443.98 L344.64 444.84 L345.84 445.85 L347.04 447 L348.24 448.28 L349.43 449.69 L350.63 451.23 L351.83 452.9 L353.03 454.68 L354.23 456.58 L355.43 458.6 L356.63 460.72 L357.83 462.94 L359.03 465.25 L360.23 467.65 L361.43 470.12 L362.63 472.66 L363.83 475.25 L365.02 477.89 L366.22 480.58 L367.42 483.3 L368.62 486.04 L369.82 488.8 L371.02 491.57 L372.22 494.34 L373.42 497.1 L374.62 499.84 L375.82 502.56 L377.02 505.25 L378.22 507.92 L379.42 510.57 L380.62 513.19 L381.81 515.81 L383.01 518.41 L384.21 521 L385.41 523.59 L386.61 526.18 L387.81 528.77 L389.01 531.37 L390.21 533.97 L391.41 536.59 L392.61 539.22 L393.81 541.87 L395.01 544.55 L396.21 547.25 L397.4 549.97 L398.6 552.73 L399.8 555.5 L401 558.3 L402.2 561.1 L403.4 563.9 L404.6 566.69 L405.8 569.48 L407 572.25 L408.2 574.99 L409.4 577.71 L410.6 580.39 L411.8 583.02 L412.99 585.6 L414.19 588.14 L415.39 590.63 L416.59 593.07 L417.79 595.47 L418.99 597.82 L420.19 600.12 L421.39 602.38 L422.59 604.59 L423.79 606.76 L424.99 608.89 L426.19 610.97 L427.39 613.02 L428.58 615.02 L429.78 616.98 L430.98 618.9 L432.18 620.78 L433.38 622.63 L434.58 624.43 L435.78 626.2 L436.98 627.93 L438.18 629.63 L439.38 631.29 L440.58 632.91 L441.78 634.51 L442.98 636.06 L444.18 637.59 L445.37 639.09 L446.57 640.55 L447.77 641.98 L448.97 643.38 L450.17 644.76 L451.37 646.1 L452.57 647.42 L453.77 648.71 L454.97 649.97 L456.17 651.21 L457.37 652.42 L458.57 653.61 L459.77 654.77 L460.96 655.91 L462.16 657.03 L463.36 658.12 L464.56 659.2 L465.76 660.25 L466.96 661.28 L468.16 662.29 L469.36 663.29 L470.56 664.27 L471.76 665.23 L472.96 666.17 L474.16 667.09 L475.36 668.01 L476.55 668.9 L477.75 669.78 L478.95 670.65 L480.15 671.51 L481.35 672.35 L482.55 673.18 L483.75 674.01 L484.95 674.82 L486.15 675.62 L487.35 676.41 L488.55 677.19 L489.75 677.97 L490.95 678.73 L492.15 679.49 L493.34 680.23 L494.54 680.97 L495.74 681.7 L496.94 682.42 L498.14 683.13 L499.34 683.83 L500.54 684.52 L501.74 685.2 L502.94 685.87 L504.14 686.54 L505.34 687.19 L506.54 687.84 L507.74 688.48 L508.93 689.1 L510.13 689.72 L511.33 690.33 L512.53 690.93 L513.73 691.53 L514.93 692.11 L516.13 692.68 L517.33 693.25 L518.53 693.81 L519.73 694.35 L520.93 694.89 L522.13 695.43 L523.33 695.95 L524.52 696.46 L525.72 696.97 L526.92 697.46 L528.12 697.95 L529.32 698.43 L530.52 698.9 L531.72 699.36 L532.92 699.81 L534.12 700.26 L535.32 700.69 L536.52 701.12 L537.72 701.54 L538.92 701.95 L540.12 702.35 L541.31 702.75 L542.51 703.13 L543.71 703.51 L544.91 703.88 L546.11 704.24 L547.31 704.59 L548.51 704.93 L549.71 705.27 L550.91 705.59 L552.11 705.91 L553.31 706.22 L554.51 706.53 L555.71 706.82 L556.9 707.11 L558.1 707.39 L559.3 707.65 L560.5 707.92 L561.7 708.17 L562.9 708.42 L564.1 708.65" fill="none" stroke="#0000ff" stroke-width="2" stroke-dasharray="7.8 3.4" />
<path d="M85.6 741.2 L87.2 741.08 L88.8 740.96 L90.4 740.85 L91.99 740.73 L93.59 740.62 L95.19 740.51 L96.79 740.41 L98.39 740.3 L99.99 740.2 L101.59 740.1 L103.19 740 L104.78 739.91 L106.38 739.82 L107.98 739.72 L109.58 739.64 L111.18 739.55 L112.78 739.46 L114.38 739.38 L115.97 739.29 L117.57 739.21 L119.17 739.13 L120.77 739.05 L122.37 738.97 L123.97 738.89 L125.57 738.81 L127.17 738.74 L128.76 738.66 L130.36 738.59 L131.96 738.51 L133.56 738.44 L135.16 738.36 L136.76 738.29 L138.36 738.21 L139.95 738.14 L141.55 738.06 L143.15 737.99 L144.75 737.91 L146.35 737.83 L147.95 737.76 L149.55 737.68 L151.15 737.6 L152.74 737.52 L154.34 737.44 L155.94 737.36 L157.54 737.28 L159.14 737.2 L160.74 737.11 L162.34 737.03 L163.93 736.94 L165.53 736.85 L167.13 736.76 L168.73 736.67 L170.33 736.57 L171.93 736.48 L173.53 736.38 L175.13 736.28 L176.72 736.18 L178.32 736.07 L179.92 735.96 L181.52 735.85 L183.12 735.74 L184.72 735.62 L186.32 735.5 L187.91 735.38 L189.51 735.26 L191.11 735.13 L192.71 735 L194.31 734.86 L195.91 734.73 L197.51 734.58 L199.11 734.44 L200.7 734.29 L202.3 734.14 L203.9 733.98 L205.5 733.82 L207.1 733.66 L208.7 733.49 L210.3 733.31 L211.89 733.14 L213.49 732.95 L215.09 732.77 L216.69 732.58 L218.29 732.38 L219.89 732.18 L221.49 731.97 L223.08 731.76 L224.68 731.55 L226.28 731.32 L227.88 731.1 L229.48 730.87 L231.08 730.63 L232.68 730.38 L234.28 730.14 L235.87 729.88 L237.47 729.62 L239.07 729.35 L240.67 729.08 L242.27 728.8 L243.87 728.51 L245.47 728.22 L247.06 727.92 L248.66 727.62 L250.26 727.31 L251.86 726.99 L253.46 726.66 L255.06 726.33 L256.66 725.99 L258.26 725.64 L259.85 725.29 L261.45 724.93 L263.05 724.56 L264.65 724.18 L266.25 723.8 L267.85 723.41 L269.45 723.01 L271.04 722.61 L272.64 722.2 L274.24 721.79 L275.84 721.37 L277.44 720.96 L279.04 720.54 L280.64 720.12 L282.24 719.71 L283.83 719.3 L285.43 718.89 L287.03 718.48 L288.63 718.08 L290.23 717.69 L291.83 717.3 L293.43 716.93 L295.02 716.56 L296.62 716.2 L298.22 715.86 L299.82 715.52 L301.42 715.2 L303.02 714.9 L304.62 714.61 L306.22 714.33 L307.81 714.08 L309.41 713.84 L311.01 713.62 L312.61 713.42 L314.21 713.25 L315.81 713.09 L317.41 712.96 L319 712.84 L320.6 712.75 L322.2 712.67 L323.8 712.62 L325.4 712.59 L327 712.58 L328.6 712.59 L330.2 712.62 L331.79 712.67 L333.39 712.74 L334.99 712.83 L336.59 712.94 L338.19 713.08 L339.79 713.23 L341.39 713.4 L342.98 713.59 L344.58 713.8 L346.18 714.03 L347.78 714.28 L349.38 714.55 L350.98 714.83 L352.58 715.13 L354.18 715.44 L355.77 715.77 L357.37 716.11 L358.97 716.46 L360.57 716.83 L362.17 717.2 L363.77 717.59 L365.37 717.98 L366.96 718.38 L368.56 718.79 L370.16 719.2 L371.76 719.61 L373.36 720.04 L374.96 720.46 L376.56 720.89 L378.16 721.31 L379.75 721.74 L381.35 722.17 L382.95 722.59 L384.55 723.01 L386.15 723.43 L387.75 723.85 L389.35 724.26 L390.94 724.66 L392.54 725.05 L394.14 725.44 L395.74 725.82 L397.34 726.19 L398.94 726.55 L400.54 726.91 L402.14 727.25 L403.73 727.59 L405.33 727.92 L406.93 728.24 L408.53 728.56 L410.13 728.86 L411.73 729.16 L413.33 729.46 L414.92 729.74 L416.52 730.02 L418.12 730.29 L419.72 730.56 L421.32 730.82 L422.92 731.07 L424.52 731.31 L426.12 731.55 L427.71 731.79 L429.31 732.02 L430.91 732.24 L432.51 732.46 L434.11 732.67 L435.71 732.87 L437.31 733.07 L438.9 733.27 L440.5 733.46 L442.1 733.65 L443.7 733.83 L445.3 734 L446.9 734.17 L448.5 734.34 L450.09 734.51 L451.69 734.66 L453.29 734.82 L454.89 734.97 L456.49 735.11 L458.09 735.26 L459.69 735.39 L461.29 735.53 L462.88 735.66 L464.48 735.79 L466.08 735.91 L467.68 736.03 L469.28 736.14 L470.88 736.26 L472.48 736.36 L474.07 736.47 L475.67 736.57 L477.27 736.67 L478.87 736.77 L480.47 736.86 L482.07 736.95 L483.67 737.04 L485.27 737.12 L486.86 737.2 L488.46 737.28 L490.06 737.36 L491.66 737.43 L493.26 737.5 L494.86 737.57 L496.46 737.64 L498.05 737.7 L499.65 737.77 L501.25 737.83 L502.85 737.89 L504.45 737.94 L506.05 738 L507.65 738.05 L509.25 738.1 L510.84 738.15 L512.44 738.2 L514.04 738.24 L515.64 738.29 L517.24 738.33 L518.84 738.37 L520.44 738.42 L522.03 738.46 L523.63 738.49 L525.23 738.53 L526.83 738.57 L528.43 738.61 L530.03 738.64 L531.63 738.68 L533.23 738.71 L534.82 738.74 L536.42 738.78 L538.02 738.81 L539.62 738.84 L541.22 738.88 L542.82 738.91 L544.42 738.94 L546.01 738.97 L547.61 739 L549.21 739.04 L550.81 739.07 L552.41 739.1 L554.01 739.13 L555.61 739.17 L557.21 739.2 L558.8 739.24 L560.4 739.27 L562 739.31 L563.6 739.34" fill="none" stroke="#d62728" stroke-width="2" stroke-dasharray="7.8 3.4" />
<line x1="333.45" y1="781.9" x2="333.45" y2="405.3" stroke="#d62728" stroke-width="3.3" stroke-dasharray="0 6.85" stroke-linecap="round"/>
<line x1="349.8" y1="781.9" x2="349.8" y2="405.3" stroke="#0000ff" stroke-width="3.3" stroke-dasharray="0 6.85" stroke-linecap="round"/>
<circle cx="86.54" cy="711" r="4.95" fill="#0000ff"/>
<circle cx="86.54" cy="741.96" r="4.95" fill="#d62728"/>
<circle cx="115.52" cy="704.26" r="4.95" fill="#0000ff"/>
<circle cx="115.52" cy="740.87" r="4.95" fill="#d62728"/>
<circle cx="144.88" cy="696.66" r="4.95" fill="#0000ff"/>
<circle cx="144.88" cy="740.19" r="4.95" fill="#d62728"/>
<circle cx="174.61" cy="684.94" r="4.95" fill="#0000ff"/>
<circle cx="174.61" cy="739.09" r="4.95" fill="#d62728"/>
<circle cx="204.73" cy="666.21" r="4.95" fill="#0000ff"/>
<circle cx="204.73" cy="736.31" r="4.95" fill="#d62728"/>
<circle cx="235.25" cy="636.01" r="4.95" fill="#0000ff"/>
<circle cx="235.25" cy="731.76" r="4.95" fill="#d62728"/>
<circle cx="266.16" cy="593.58" r="4.95" fill="#0000ff"/>
<circle cx="266.16" cy="725.85" r="4.95" fill="#d62728"/>
<circle cx="297.49" cy="527.62" r="4.95" fill="#0000ff"/>
<circle cx="297.49" cy="718.26" r="4.95" fill="#d62728"/>
<circle cx="329.23" cy="456.76" r="4.95" fill="#0000ff"/>
<circle cx="329.23" cy="712.69" r="4.95" fill="#d62728"/>
<circle cx="361.4" cy="456.76" r="4.95" fill="#0000ff"/>
<circle cx="361.4" cy="719.95" r="4.95" fill="#d62728"/>
<circle cx="394" cy="536.05" r="4.95" fill="#0000ff"/>
<circle cx="394" cy="730.74" r="4.95" fill="#d62728"/>
<circle cx="427.05" cy="613.83" r="4.95" fill="#0000ff"/>
<circle cx="427.05" cy="737.41" r="4.95" fill="#d62728"/>
<circle cx="460.55" cy="657.94" r="4.95" fill="#0000ff"/>
<circle cx="460.55" cy="740.11" r="4.95" fill="#d62728"/>
<circle cx="494.51" cy="699.36" r="4.95" fill="#0000ff"/>
<circle cx="494.51" cy="741.63" r="4.95" fill="#d62728"/>
<circle cx="528.94" cy="720.96" r="4.95" fill="#0000ff"/>
<circle cx="528.94" cy="742.13" r="4.95" fill="#d62728"/>
<circle cx="563.86" cy="734.71" r="4.95" fill="#0000ff"/>
<circle cx="563.86" cy="742.3" r="4.95" fill="#d62728"/>
<line x1="331.3" y1="641.2" x2="356" y2="641.2" stroke="#000" stroke-width="3.6" />
<path d="M368.4 641.2 L353.0 635.5 L355.2 641.2 L353.0 646.9 Z" fill="#000"/>
<text x="360" y="664.1" font-size="18.3" text-anchor="start" fill="#000" stroke="#000" font-weight="normal" ><tspan font-family='"Liberation Serif", serif'>&#916;</tspan>E<tspan font-size="12.9" dy="3.2">OS/BS</tspan><tspan dy="-3.2" dx="0.7" font-size="1">&#8203;</tspan></text>
<rect x="64.85" y="405.3" width="521.9" height="379.6" fill="none" stroke="#000" stroke-width="2"/>
<line x1="93.84" y1="785.9" x2="93.84" y2="776.2" stroke="#000" stroke-width="1.8" />
<line x1="151.83" y1="785.9" x2="151.83" y2="776.2" stroke="#000" stroke-width="1.8" />
<line x1="209.82" y1="785.9" x2="209.82" y2="776.2" stroke="#000" stroke-width="1.8" />
<line x1="267.81" y1="785.9" x2="267.81" y2="776.2" stroke="#000" stroke-width="1.8" />
<line x1="325.8" y1="785.9" x2="325.8" y2="776.2" stroke="#000" stroke-width="1.8" />
<line x1="383.79" y1="785.9" x2="383.79" y2="776.2" stroke="#000" stroke-width="1.8" />
<line x1="441.78" y1="785.9" x2="441.78" y2="776.2" stroke="#000" stroke-width="1.8" />
<line x1="499.77" y1="785.9" x2="499.77" y2="776.2" stroke="#000" stroke-width="1.8" />
<line x1="557.76" y1="785.9" x2="557.76" y2="776.2" stroke="#000" stroke-width="1.8" />
<line x1="122.84" y1="785.9" x2="122.84" y2="780.3" stroke="#000" stroke-width="1.8" />
<line x1="180.83" y1="785.9" x2="180.83" y2="780.3" stroke="#000" stroke-width="1.8" />
<line x1="238.82" y1="785.9" x2="238.82" y2="780.3" stroke="#000" stroke-width="1.8" />
<line x1="296.81" y1="785.9" x2="296.81" y2="780.3" stroke="#000" stroke-width="1.8" />
<line x1="354.79" y1="785.9" x2="354.79" y2="780.3" stroke="#000" stroke-width="1.8" />
<line x1="412.78" y1="785.9" x2="412.78" y2="780.3" stroke="#000" stroke-width="1.8" />
<line x1="470.77" y1="785.9" x2="470.77" y2="780.3" stroke="#000" stroke-width="1.8" />
<line x1="528.76" y1="785.9" x2="528.76" y2="780.3" stroke="#000" stroke-width="1.8" />
<line x1="586.75" y1="785.9" x2="586.75" y2="780.3" stroke="#000" stroke-width="1.8" />
<line x1="86.54" y1="404.3" x2="86.54" y2="414" stroke="#000" stroke-width="1.8" />
<line x1="144.88" y1="404.3" x2="144.88" y2="414" stroke="#000" stroke-width="1.8" />
<line x1="204.73" y1="404.3" x2="204.73" y2="414" stroke="#000" stroke-width="1.8" />
<line x1="266.16" y1="404.3" x2="266.16" y2="414" stroke="#000" stroke-width="1.8" />
<line x1="329.23" y1="404.3" x2="329.23" y2="414" stroke="#000" stroke-width="1.8" />
<line x1="394" y1="404.3" x2="394" y2="414" stroke="#000" stroke-width="1.8" />
<line x1="460.55" y1="404.3" x2="460.55" y2="414" stroke="#000" stroke-width="1.8" />
<line x1="528.94" y1="404.3" x2="528.94" y2="414" stroke="#000" stroke-width="1.8" />
<line x1="115.52" y1="404.3" x2="115.52" y2="409.9" stroke="#000" stroke-width="1.8" />
<line x1="174.61" y1="404.3" x2="174.61" y2="409.9" stroke="#000" stroke-width="1.8" />
<line x1="235.25" y1="404.3" x2="235.25" y2="409.9" stroke="#000" stroke-width="1.8" />
<line x1="297.49" y1="404.3" x2="297.49" y2="409.9" stroke="#000" stroke-width="1.8" />
<line x1="361.4" y1="404.3" x2="361.4" y2="409.9" stroke="#000" stroke-width="1.8" />
<line x1="427.05" y1="404.3" x2="427.05" y2="409.9" stroke="#000" stroke-width="1.8" />
<line x1="494.51" y1="404.3" x2="494.51" y2="409.9" stroke="#000" stroke-width="1.8" />
<line x1="563.86" y1="404.3" x2="563.86" y2="409.9" stroke="#000" stroke-width="1.8" />
<line x1="63.85" y1="742.72" x2="73.55" y2="742.72" stroke="#000" stroke-width="1.8" />
<line x1="63.85" y1="658.37" x2="73.55" y2="658.37" stroke="#000" stroke-width="1.8" />
<line x1="63.85" y1="574.01" x2="73.55" y2="574.01" stroke="#000" stroke-width="1.8" />
<line x1="63.85" y1="489.66" x2="73.55" y2="489.66" stroke="#000" stroke-width="1.8" />
<line x1="63.85" y1="700.54" x2="69.45" y2="700.54" stroke="#000" stroke-width="1.8" />
<line x1="63.85" y1="616.19" x2="69.45" y2="616.19" stroke="#000" stroke-width="1.8" />
<line x1="63.85" y1="531.83" x2="69.45" y2="531.83" stroke="#000" stroke-width="1.8" />
<line x1="63.85" y1="447.48" x2="69.45" y2="447.48" stroke="#000" stroke-width="1.8" />
<line x1="587.75" y1="742.72" x2="578.05" y2="742.72" stroke="#000" stroke-width="1.8" />
<line x1="587.75" y1="658.37" x2="578.05" y2="658.37" stroke="#000" stroke-width="1.8" />
<line x1="587.75" y1="574.01" x2="578.05" y2="574.01" stroke="#000" stroke-width="1.8" />
<line x1="587.75" y1="489.66" x2="578.05" y2="489.66" stroke="#000" stroke-width="1.8" />
<line x1="587.75" y1="700.54" x2="582.15" y2="700.54" stroke="#000" stroke-width="1.8" />
<line x1="587.75" y1="616.19" x2="582.15" y2="616.19" stroke="#000" stroke-width="1.8" />
<line x1="587.75" y1="531.83" x2="582.15" y2="531.83" stroke="#000" stroke-width="1.8" />
<line x1="587.75" y1="447.48" x2="582.15" y2="447.48" stroke="#000" stroke-width="1.8" />
<text x="88.64" y="806" font-size="18.3" text-anchor="middle" fill="#000" stroke="#000" font-weight="normal" >&#8722;40</text>
<text x="146.63" y="806" font-size="18.3" text-anchor="middle" fill="#000" stroke="#000" font-weight="normal" >&#8722;30</text>
<text x="204.62" y="806" font-size="18.3" text-anchor="middle" fill="#000" stroke="#000" font-weight="normal" >&#8722;20</text>
<text x="262.61" y="806" font-size="18.3" text-anchor="middle" fill="#000" stroke="#000" font-weight="normal" >&#8722;10</text>
<text x="325.8" y="806" font-size="18.3" text-anchor="middle" fill="#000" stroke="#000" font-weight="normal" >0</text>
<text x="383.79" y="806" font-size="18.3" text-anchor="middle" fill="#000" stroke="#000" font-weight="normal" >10</text>
<text x="441.78" y="806" font-size="18.3" text-anchor="middle" fill="#000" stroke="#000" font-weight="normal" >20</text>
<text x="499.77" y="806" font-size="18.3" text-anchor="middle" fill="#000" stroke="#000" font-weight="normal" >30</text>
<text x="557.76" y="806" font-size="18.3" text-anchor="middle" fill="#000" stroke="#000" font-weight="normal" >40</text>
<text x="85.74" y="397.2" font-size="18.3" text-anchor="middle" fill="#000" stroke="#000" font-weight="normal" >1580</text>
<text x="144.08" y="397.2" font-size="18.3" text-anchor="middle" fill="#000" stroke="#000" font-weight="normal" >1560</text>
<text x="203.93" y="397.2" font-size="18.3" text-anchor="middle" fill="#000" stroke="#000" font-weight="normal" >1540</text>
<text x="265.36" y="397.2" font-size="18.3" text-anchor="middle" fill="#000" stroke="#000" font-weight="normal" >1520</text>
<text x="328.43" y="397.2" font-size="18.3" text-anchor="middle" fill="#000" stroke="#000" font-weight="normal" >1500</text>
<text x="393.2" y="397.2" font-size="18.3" text-anchor="middle" fill="#000" stroke="#000" font-weight="normal" >1480</text>
<text x="459.75" y="397.2" font-size="18.3" text-anchor="middle" fill="#000" stroke="#000" font-weight="normal" >1460</text>
<text x="528.14" y="397.2" font-size="18.3" text-anchor="middle" fill="#000" stroke="#000" font-weight="normal" >1440</text>
<text x="57.4" y="749.62" font-size="18.3" text-anchor="end" fill="#000" stroke="#000" font-weight="normal" >0</text>
<text x="57.4" y="665.27" font-size="18.3" text-anchor="end" fill="#000" stroke="#000" font-weight="normal" >10</text>
<text x="57.4" y="580.91" font-size="18.3" text-anchor="end" fill="#000" stroke="#000" font-weight="normal" >20</text>
<text x="57.4" y="496.56" font-size="18.3" text-anchor="end" fill="#000" stroke="#000" font-weight="normal" >30</text>
<text x="57.4" y="412.2" font-size="18.3" text-anchor="end" fill="#000" stroke="#000" font-weight="normal" >40</text>
<text x="325.7" y="827.9" font-size="18.6" text-anchor="middle" fill="#000" stroke="#000" font-weight="normal" >Detuning Energy (meV)</text>
<text x="329" y="370.9" font-size="18.6" text-anchor="middle" fill="#000" stroke="#000" font-weight="normal" >FB Wavelength (nm)</text>
<text transform="translate(25.7 595.4) rotate(-90)" font-size="18.6" text-anchor="middle" fill="#000" stroke="#000">SH Intensity (W/cm<tspan font-size="13.3" dy="-7.3">2</tspan><tspan dy="7.3" font-size="1">&#8203;</tspan>)</text>
<circle cx="112.9" cy="438.9" r="5.3" fill="#0000ff"/>
<circle cx="112.9" cy="464.9" r="5.3" fill="#d62728"/>
<line x1="97.4" y1="490.6" x2="127.7" y2="490.6" stroke="#0000ff" stroke-width="2" stroke-dasharray="7.8 3.4"/>
<line x1="97.4" y1="516.8" x2="127.7" y2="516.8" stroke="#d62728" stroke-width="2" stroke-dasharray="7.8 3.4"/>
<text x="134.6" y="444.8" font-size="18.3" text-anchor="start" fill="#000" stroke="#000" font-weight="normal" >I<tspan font-size="12.9" dy="3.2">SHG</tspan><tspan dy="-3.2" dx="0.7" font-size="1">&#8203;</tspan> (I<tspan font-size="12.9" dy="3.2">FB,max</tspan><tspan dy="-3.2" dx="0.7" font-size="1">&#8203;</tspan>)</text>
<text x="134.6" y="470.8" font-size="18.3" text-anchor="start" fill="#000" stroke="#000" font-weight="normal" >I<tspan font-size="12.9" dy="3.2">SHG</tspan><tspan dy="-3.2" dx="0.7" font-size="1">&#8203;</tspan> (I<tspan font-size="12.9" dy="3.2">FB,min</tspan><tspan dy="-3.2" dx="0.7" font-size="1">&#8203;</tspan>)</text>
<text x="134.6" y="497" font-size="18.3" text-anchor="start" fill="#000" stroke="#000" font-weight="normal" >I<tspan font-size="12.9" dy="3.2">Fit</tspan><tspan dy="-3.2" dx="0.7" font-size="1">&#8203;</tspan> (I<tspan font-size="12.9" dy="3.2">FB,max</tspan><tspan dy="-3.2" dx="0.7" font-size="1">&#8203;</tspan>)</text>
<text x="134.6" y="523.2" font-size="18.3" text-anchor="start" fill="#000" stroke="#000" font-weight="normal" >I<tspan font-size="12.9" dy="3.2">Fit</tspan><tspan dy="-3.2" dx="0.7" font-size="1">&#8203;</tspan> (I<tspan font-size="12.9" dy="3.2">FB,min</tspan><tspan dy="-3.2" dx="0.7" font-size="1">&#8203;</tspan>)</text>
<text x="-1.1" y="358.5" font-size="18" text-anchor="start" fill="#000" stroke="#000" font-weight="bold" >c</text>
<line x1="703.45" y1="595.12" x2="1225.3" y2="595.12" stroke="#7f7f7f" stroke-width="2" stroke-dasharray="7.8 3.4"/>
<path d="M723.8 605 L724.76 605.13 L725.72 605.27 L726.68 605.4 L727.64 605.54 L728.59 605.68 L729.55 605.82 L730.51 605.97 L731.47 606.12 L732.43 606.27 L733.39 606.42 L734.35 606.57 L735.31 606.73 L736.27 606.89 L737.22 607.05 L738.18 607.21 L739.14 607.37 L740.1 607.54 L741.06 607.7 L742.02 607.87 L742.98 608.04 L743.94 608.22 L744.9 608.39 L745.86 608.57 L746.81 608.75 L747.77 608.93 L748.73 609.12 L749.69 609.31 L750.65 609.5 L751.61 609.7 L752.57 609.89 L753.53 610.09 L754.49 610.29 L755.44 610.49 L756.4 610.7 L757.36 610.91 L758.32 611.11 L759.28 611.32 L760.24 611.53 L761.2 611.75 L762.16 611.96 L763.12 612.17 L764.07 612.39 L765.03 612.61 L765.99 612.83 L766.95 613.04 L767.91 613.26 L768.87 613.48 L769.83 613.71 L770.79 613.93 L771.75 614.16 L772.7 614.38 L773.66 614.61 L774.62 614.85 L775.58 615.08 L776.54 615.32 L777.5 615.56 L778.46 615.8 L779.42 616.04 L780.38 616.29 L781.34 616.55 L782.29 616.8 L783.25 617.06 L784.21 617.32 L785.17 617.59 L786.13 617.86 L787.09 618.14 L788.05 618.42 L789.01 618.71 L789.97 619 L790.92 619.29 L791.88 619.59 L792.84 619.9 L793.8 620.2 L794.76 620.52 L795.72 620.83 L796.68 621.15 L797.64 621.48 L798.6 621.81 L799.55 622.15 L800.51 622.48 L801.47 622.83 L802.43 623.18 L803.39 623.53 L804.35 623.88 L805.31 624.25 L806.27 624.61 L807.23 624.98 L808.18 625.35 L809.14 625.73 L810.1 626.12 L811.06 626.51 L812.02 626.91 L812.98 627.32 L813.94 627.73 L814.9 628.15 L815.86 628.57 L816.82 629 L817.77 629.44 L818.73 629.88 L819.69 630.33 L820.65 630.78 L821.61 631.24 L822.57 631.7 L823.53 632.17 L824.49 632.64 L825.45 633.12 L826.4 633.6 L827.36 634.09 L828.32 634.58 L829.28 635.08 L830.24 635.58 L831.2 636.08 L832.16 636.59 L833.12 637.11 L834.08 637.63 L835.03 638.16 L835.99 638.69 L836.95 639.23 L837.91 639.78 L838.87 640.33 L839.83 640.89 L840.79 641.46 L841.75 642.04 L842.71 642.62 L843.66 643.21 L844.62 643.8 L845.58 644.41 L846.54 645.02 L847.5 645.64 L848.46 646.27 L849.42 646.91 L850.38 647.56 L851.34 648.22 L852.29 648.88 L853.25 649.57 L854.21 650.26 L855.17 650.97 L856.13 651.69 L857.09 652.42 L858.05 653.16 L859.01 653.92 L859.97 654.68 L860.93 655.46 L861.88 656.25 L862.84 657.04 L863.8 657.84 L864.76 658.66 L865.72 659.48 L866.68 660.3 L867.64 661.14 L868.6 661.98 L869.56 662.83 L870.51 663.68 L871.47 664.54 L872.43 665.41 L873.39 666.27 L874.35 667.16 L875.31 668.06 L876.27 668.97 L877.23 669.91 L878.19 670.85 L879.14 671.81 L880.1 672.78 L881.06 673.76 L882.02 674.74 L882.98 675.73 L883.94 676.73 L884.9 677.74 L885.86 678.78 L886.82 679.83 L887.77 680.9 L888.73 681.97 L889.69 683.05 L890.65 684.14 L891.61 685.21 L892.57 686.28 L893.53 687.33 L894.49 688.36 L895.45 689.38 L896.41 690.44 L897.36 691.52 L898.32 692.62 L899.28 693.71 L900.24 694.78 L901.2 695.81 L902.16 696.8 L903.12 697.71 L904.08 698.54 L905.04 699.26 L905.99 699.88 L906.95 700.48 L907.91 701.08 L908.87 701.66 L909.83 702.2 L910.79 702.68 L911.75 703.08 L912.71 703.38 L913.67 703.56 L914.62 703.6 L915.58 703.54 L916.54 703.41 L917.5 703.22 L918.46 702.96 L919.42 702.66 L920.38 702.31 L921.34 701.93 L922.3 701.52 L923.25 701.07 L924.21 700.44 L925.17 699.56 L926.13 698.49 L927.09 697.25 L928.05 695.87 L929.01 694.38 L929.97 692.82 L930.93 691.21 L931.89 689.58 L932.84 687.8 L933.8 685.82 L934.76 683.65 L935.72 681.33 L936.68 678.88 L937.64 676.33 L938.6 673.69 L939.56 670.88 L940.52 667.89 L941.47 664.73 L942.43 661.41 L943.39 657.97 L944.35 654.42 L945.31 650.73 L946.27 646.8 L947.23 642.67 L948.19 638.39 L949.15 634 L950.1 629.56 L951.06 625.11 L952.02 620.7 L952.98 616.29 L953.94 611.82 L954.9 607.31 L955.86 602.77 L956.82 598.23 L957.78 593.7 L958.73 589.15 L959.69 584.59 L960.65 580.02 L961.61 575.45 L962.57 570.89 L963.53 566.34 L964.49 561.78 L965.45 557.23 L966.41 552.68 L967.37 548.11 L968.32 543.51 L969.28 538.89 L970.24 534.28 L971.2 529.73 L972.16 525.26 L973.12 520.83 L974.08 516.43 L975.04 512.11 L976 507.94 L976.95 503.94 L977.91 500.05 L978.87 496.24 L979.83 492.55 L980.79 488.99 L981.75 485.58 L982.71 482.33 L983.67 479.14 L984.63 476.03 L985.58 473.07 L986.54 470.3 L987.5 467.78 L988.46 465.55 L989.42 463.43 L990.38 461.4 L991.34 459.49 L992.3 457.74 L993.26 456.18 L994.21 454.82 L995.17 453.7 L996.13 452.7 L997.09 451.78 L998.05 450.97 L999.01 450.27 L999.97 449.7 L1000.93 449.26 L1001.89 448.87 L1002.85 448.51 L1003.8 448.2 L1004.76 447.96 L1005.72 447.82 L1006.68 447.81 L1007.64 447.93 L1008.6 448.17 L1009.56 448.5 L1010.52 448.9 L1011.48 449.34 L1012.43 449.79 L1013.39 450.24 L1014.35 450.75 L1015.31 451.35 L1016.27 452.02 L1017.23 452.75 L1018.19 453.53 L1019.15 454.35 L1020.11 455.19 L1021.06 456.12 L1022.02 457.13 L1022.98 458.23 L1023.94 459.38 L1024.9 460.57 L1025.86 461.78 L1026.82 463 L1027.78 464.22 L1028.74 465.48 L1029.69 466.76 L1030.65 468.08 L1031.61 469.42 L1032.57 470.77 L1033.53 472.14 L1034.49 473.52 L1035.45 474.9 L1036.41 476.29 L1037.37 477.72 L1038.33 479.18 L1039.28 480.67 L1040.24 482.17 L1041.2 483.68 L1042.16 485.19 L1043.12 486.68 L1044.08 488.15 L1045.04 489.58 L1046 490.97 L1046.96 492.3 L1047.91 493.57 L1048.87 494.79 L1049.83 495.97 L1050.79 497.12 L1051.75 498.24 L1052.71 499.34 L1053.67 500.44 L1054.63 501.52 L1055.59 502.62 L1056.54 503.72 L1057.5 504.85 L1058.46 506 L1059.42 507.17 L1060.38 508.37 L1061.34 509.58 L1062.3 510.8 L1063.26 512.02 L1064.22 513.24 L1065.17 514.45 L1066.13 515.65 L1067.09 516.83 L1068.05 517.98 L1069.01 519.1 L1069.97 520.19 L1070.93 521.27 L1071.89 522.34 L1072.85 523.4 L1073.81 524.44 L1074.76 525.47 L1075.72 526.48 L1076.68 527.48 L1077.64 528.46 L1078.6 529.42 L1079.56 530.37 L1080.52 531.29 L1081.48 532.2 L1082.44 533.1 L1083.39 533.97 L1084.35 534.83 L1085.31 535.69 L1086.27 536.53 L1087.23 537.36 L1088.19 538.18 L1089.15 539 L1090.11 539.81 L1091.07 540.62 L1092.02 541.43 L1092.98 542.24 L1093.94 543.05 L1094.9 543.85 L1095.86 544.64 L1096.82 545.42 L1097.78 546.19 L1098.74 546.94 L1099.7 547.68 L1100.65 548.41 L1101.61 549.11 L1102.57 549.8 L1103.53 550.47 L1104.49 551.14 L1105.45 551.79 L1106.41 552.43 L1107.37 553.06 L1108.33 553.68 L1109.28 554.29 L1110.24 554.89 L1111.2 555.48 L1112.16 556.06 L1113.12 556.63 L1114.08 557.19 L1115.04 557.75 L1116 558.29 L1116.96 558.83 L1117.92 559.36 L1118.87 559.88 L1119.83 560.39 L1120.79 560.89 L1121.75 561.38 L1122.71 561.86 L1123.67 562.33 L1124.63 562.79 L1125.59 563.24 L1126.55 563.68 L1127.5 564.12 L1128.46 564.54 L1129.42 564.96 L1130.38 565.37 L1131.34 565.78 L1132.3 566.17 L1133.26 566.56 L1134.22 566.95 L1135.18 567.32 L1136.13 567.69 L1137.09 568.06 L1138.05 568.42 L1139.01 568.77 L1139.97 569.12 L1140.93 569.46 L1141.89 569.79 L1142.85 570.12 L1143.81 570.44 L1144.76 570.76 L1145.72 571.07 L1146.68 571.37 L1147.64 571.67 L1148.6 571.96 L1149.56 572.25 L1150.52 572.53 L1151.48 572.81 L1152.44 573.08 L1153.4 573.36 L1154.35 573.63 L1155.31 573.89 L1156.27 574.16 L1157.23 574.42 L1158.19 574.69 L1159.15 574.95 L1160.11 575.2 L1161.07 575.46 L1162.03 575.71 L1162.98 575.95 L1163.94 576.19 L1164.9 576.43 L1165.86 576.65 L1166.82 576.87 L1167.78 577.09 L1168.74 577.29 L1169.7 577.49 L1170.66 577.69 L1171.61 577.89 L1172.57 578.08 L1173.53 578.26 L1174.49 578.45 L1175.45 578.63 L1176.41 578.81 L1177.37 578.99 L1178.33 579.17 L1179.29 579.35 L1180.24 579.53 L1181.2 579.7 L1182.16 579.88 L1183.12 580.05 L1184.08 580.22 L1185.04 580.38 L1186 580.54 L1186.96 580.7 L1187.92 580.86 L1188.88 581.01 L1189.83 581.16 L1190.79 581.3 L1191.75 581.45 L1192.71 581.59 L1193.67 581.73 L1194.63 581.87 L1195.59 582.01 L1196.55 582.14 L1197.51 582.28 L1198.46 582.41 L1199.42 582.53 L1200.38 582.66 L1201.34 582.78 L1202.3 582.9" fill="none" stroke="#000" stroke-width="2" stroke-dasharray="7.8 3.4" />
<path d="M703.2 600.7 L704.24 600.82 L705.29 600.93 L706.33 601.05 L707.38 601.17 L708.42 601.29 L709.47 601.41 L710.51 601.53 L711.56 601.65 L712.6 601.78 L713.65 601.9 L714.69 602.03 L715.74 602.15 L716.78 602.28 L717.83 602.41 L718.87 602.54 L719.92 602.67 L720.96 602.81 L722.01 602.94 L723.05 603.07 L724.1 603.21 L725.14 603.35 L726.19 603.48 L727.23 603.62 L728.28 603.76 L729.32 603.91 L730.37 604.05 L731.41 604.19 L732.46 604.34 L733.5 604.48 L734.55 604.63 L735.59 604.78 L736.64 604.93 L737.68 605.08 L738.73 605.23 L739.77 605.38 L740.82 605.53 L741.86 605.69 L742.91 605.84 L743.95 606 L745 606.15 L746.04 606.31 L747.09 606.47 L748.13 606.63 L749.18 606.79 L750.22 606.95 L751.26 607.11 L752.31 607.28 L753.35 607.44 L754.4 607.61 L755.44 607.78 L756.49 607.95 L757.53 608.12 L758.58 608.29 L759.62 608.47 L760.67 608.65 L761.71 608.82 L762.76 609.01 L763.8 609.19 L764.85 609.37 L765.89 609.56 L766.94 609.75 L767.98 609.94 L769.03 610.14 L770.07 610.33 L771.12 610.53 L772.16 610.73 L773.21 610.93 L774.25 611.14 L775.3 611.34 L776.34 611.55 L777.39 611.76 L778.43 611.98 L779.48 612.19 L780.52 612.41 L781.57 612.62 L782.61 612.84 L783.66 613.07 L784.7 613.29 L785.75 613.51 L786.79 613.74 L787.84 613.97 L788.88 614.2 L789.93 614.43 L790.97 614.67 L792.02 614.9 L793.06 615.14 L794.11 615.38 L795.15 615.62 L796.2 615.87 L797.24 616.12 L798.28 616.37 L799.33 616.62 L800.37 616.87 L801.42 617.13 L802.46 617.39 L803.51 617.65 L804.55 617.92 L805.6 618.19 L806.64 618.46 L807.69 618.74 L808.73 619.02 L809.78 619.3 L810.82 619.58 L811.87 619.86 L812.91 620.15 L813.96 620.44 L815 620.73 L816.05 621.03 L817.09 621.33 L818.14 621.63 L819.18 621.94 L820.23 622.25 L821.27 622.57 L822.32 622.89 L823.36 623.22 L824.41 623.55 L825.45 623.89 L826.5 624.23 L827.54 624.58 L828.59 624.94 L829.63 625.31 L830.68 625.68 L831.72 626.06 L832.77 626.44 L833.81 626.84 L834.86 627.24 L835.9 627.65 L836.95 628.07 L837.99 628.49 L839.04 628.92 L840.08 629.36 L841.13 629.81 L842.17 630.27 L843.22 630.73 L844.26 631.2 L845.31 631.68 L846.35 632.16 L847.39 632.65 L848.44 633.15 L849.48 633.66 L850.53 634.17 L851.57 634.69 L852.62 635.22 L853.66 635.76 L854.71 636.32 L855.75 636.89 L856.8 637.48 L857.84 638.08 L858.89 638.68 L859.93 639.3 L860.98 639.93 L862.02 640.56 L863.07 641.21 L864.11 641.86 L865.16 642.51 L866.2 643.18 L867.25 643.84 L868.29 644.51 L869.34 645.19 L870.38 645.87 L871.43 646.55 L872.47 647.23 L873.52 647.91 L874.56 648.6 L875.61 649.3 L876.65 650.01 L877.7 650.73 L878.74 651.46 L879.79 652.2 L880.83 652.94 L881.88 653.69 L882.92 654.44 L883.97 655.2 L885.01 655.97 L886.06 656.77 L887.1 657.58 L888.15 658.4 L889.19 659.23 L890.24 660.05 L891.28 660.87 L892.33 661.66 L893.37 662.43 L894.41 663.17 L895.46 663.88 L896.5 664.59 L897.55 665.3 L898.59 666 L899.64 666.69 L900.68 667.35 L901.73 667.99 L902.77 668.59 L903.82 669.14 L904.86 669.64 L905.91 670.08 L906.95 670.52 L908 670.96 L909.04 671.4 L910.09 671.81 L911.13 672.18 L912.18 672.5 L913.22 672.75 L914.27 672.92 L915.31 673 L916.36 672.96 L917.4 672.81 L918.45 672.56 L919.49 672.22 L920.54 671.8 L921.58 671.33 L922.63 670.81 L923.67 670.25 L924.72 669.67 L925.76 669.06 L926.81 668.27 L927.85 667.32 L928.9 666.23 L929.94 665.01 L930.99 663.68 L932.03 662.27 L933.08 660.79 L934.12 659.27 L935.17 657.57 L936.21 655.65 L937.26 653.55 L938.3 651.32 L939.35 649 L940.39 646.62 L941.43 644.15 L942.48 641.5 L943.52 638.73 L944.57 635.87 L945.61 632.94 L946.66 629.98 L947.7 626.99 L948.75 623.92 L949.79 620.76 L950.84 617.55 L951.88 614.3 L952.93 610.99 L953.97 607.62 L955.02 604.2 L956.06 600.76 L957.11 597.3 L958.15 593.83 L959.2 590.35 L960.24 586.85 L961.29 583.33 L962.33 579.77 L963.38 576.17 L964.42 572.51 L965.47 568.77 L966.51 564.97 L967.56 561.14 L968.6 557.34 L969.65 553.59 L970.69 549.87 L971.74 546.14 L972.78 542.48 L973.83 538.94 L974.87 535.58 L975.92 532.32 L976.96 529.17 L978.01 526.15 L979.05 523.3 L980.1 520.56 L981.14 517.91 L982.19 515.37 L983.23 512.96 L984.28 510.68 L985.32 508.52 L986.37 506.4 L987.41 504.38 L988.45 502.5 L989.5 500.82 L990.54 499.38 L991.59 498.09 L992.63 496.88 L993.68 495.77 L994.72 494.76 L995.77 493.86 L996.81 493.09 L997.86 492.42 L998.9 491.78 L999.95 491.2 L1000.99 490.71 L1002.04 490.32 L1003.08 490.06 L1004.13 489.87 L1005.17 489.69 L1006.22 489.55 L1007.26 489.45 L1008.31 489.4 L1009.35 489.45 L1010.4 489.64 L1011.44 489.96 L1012.49 490.37 L1013.53 490.83 L1014.58 491.32 L1015.62 491.8 L1016.67 492.34 L1017.71 492.97 L1018.76 493.67 L1019.8 494.42 L1020.85 495.2 L1021.89 495.99 L1022.94 496.79 L1023.98 497.62 L1025.03 498.5 L1026.07 499.41 L1027.12 500.34 L1028.16 501.29 L1029.21 502.26 L1030.25 503.23 L1031.3 504.2 L1032.34 505.19 L1033.39 506.2 L1034.43 507.23 L1035.47 508.28 L1036.52 509.33 L1037.56 510.39 L1038.61 511.44 L1039.65 512.48 L1040.7 513.5 L1041.74 514.52 L1042.79 515.55 L1043.83 516.58 L1044.88 517.61 L1045.92 518.62 L1046.97 519.6 L1048.01 520.56 L1049.06 521.47 L1050.1 522.33 L1051.15 523.14 L1052.19 523.92 L1053.24 524.66 L1054.28 525.39 L1055.33 526.12 L1056.37 526.84 L1057.42 527.57 L1058.46 528.32 L1059.51 529.08 L1060.55 529.83 L1061.6 530.59 L1062.64 531.35 L1063.69 532.11 L1064.73 532.88 L1065.78 533.64 L1066.82 534.41 L1067.87 535.18 L1068.91 535.96 L1069.96 536.74 L1071 537.54 L1072.05 538.35 L1073.09 539.17 L1074.14 539.98 L1075.18 540.8 L1076.23 541.6 L1077.27 542.39 L1078.32 543.17 L1079.36 543.92 L1080.41 544.65 L1081.45 545.36 L1082.49 546.06 L1083.54 546.74 L1084.58 547.41 L1085.63 548.08 L1086.67 548.74 L1087.72 549.39 L1088.76 550.04 L1089.81 550.69 L1090.85 551.33 L1091.9 551.98 L1092.94 552.64 L1093.99 553.29 L1095.03 553.93 L1096.08 554.58 L1097.12 555.21 L1098.17 555.84 L1099.21 556.45 L1100.26 557.05 L1101.3 557.64 L1102.35 558.21 L1103.39 558.76 L1104.44 559.31 L1105.48 559.85 L1106.53 560.37 L1107.57 560.89 L1108.62 561.4 L1109.66 561.91 L1110.71 562.41 L1111.75 562.9 L1112.8 563.38 L1113.84 563.87 L1114.89 564.35 L1115.93 564.82 L1116.98 565.28 L1118.02 565.74 L1119.07 566.2 L1120.11 566.64 L1121.16 567.08 L1122.2 567.5 L1123.25 567.92 L1124.29 568.32 L1125.34 568.72 L1126.38 569.11 L1127.43 569.5 L1128.47 569.87 L1129.52 570.24 L1130.56 570.61 L1131.6 570.96 L1132.65 571.32 L1133.69 571.67 L1134.74 572.01 L1135.78 572.35 L1136.83 572.68 L1137.87 573.01 L1138.92 573.34 L1139.96 573.66 L1141.01 573.97 L1142.05 574.28 L1143.1 574.59 L1144.14 574.89 L1145.19 575.18 L1146.23 575.47 L1147.28 575.76 L1148.32 576.04 L1149.37 576.32 L1150.41 576.6 L1151.46 576.87 L1152.5 577.13 L1153.55 577.39 L1154.59 577.64 L1155.64 577.89 L1156.68 578.12 L1157.73 578.35 L1158.77 578.57 L1159.82 578.79 L1160.86 579.01 L1161.91 579.22 L1162.95 579.42 L1164 579.62 L1165.04 579.82 L1166.09 580.02 L1167.13 580.22 L1168.18 580.41 L1169.22 580.61 L1170.27 580.8 L1171.31 580.98 L1172.36 581.17 L1173.4 581.35 L1174.45 581.52 L1175.49 581.7 L1176.54 581.86 L1177.58 582.03 L1178.62 582.19 L1179.67 582.34 L1180.71 582.49 L1181.76 582.64 L1182.8 582.79 L1183.85 582.93 L1184.89 583.07 L1185.94 583.21 L1186.98 583.34 L1188.03 583.48 L1189.07 583.61 L1190.12 583.74 L1191.16 583.88 L1192.21 584.01 L1193.25 584.13 L1194.3 584.26 L1195.34 584.38 L1196.39 584.5 L1197.43 584.62 L1198.48 584.74 L1199.52 584.86 L1200.57 584.97 L1201.61 585.08 L1202.66 585.18 L1203.7 585.29 L1204.75 585.39 L1205.79 585.5 L1206.84 585.6 L1207.88 585.7 L1208.93 585.81 L1209.97 585.92 L1211.02 586.03 L1212.06 586.14 L1213.11 586.25 L1214.15 586.36 L1215.2 586.47 L1216.24 586.58 L1217.29 586.7 L1218.33 586.81 L1219.38 586.92 L1220.42 587.04 L1221.47 587.15 L1222.51 587.27 L1223.56 587.38 L1224.6 587.5" fill="none" stroke="#800080" stroke-width="2" stroke-dasharray="7.8 3.4" />
<line x1="733.5" y1="557.2" x2="777.7" y2="557.2" stroke="#000" stroke-width="2.7" stroke-linecap="round"/>
<path d="M724.1 557.2 L736.0 552.6 L734.2 557.2 L736.0 561.8 Z" fill="#000"/>
<line x1="1150.4" y1="642.5" x2="1195" y2="642.5" stroke="#973097" stroke-width="2.5" stroke-linecap="round"/>
<path d="M1204.7 642.5 L1192.4 637.9 L1194.2 642.5 L1192.4 647.1 Z" fill="#800080"/>
<text x="730.6" y="759.2" font-size="18.3" text-anchor="start" fill="#000" stroke="#000" font-weight="normal" >I<tspan font-size="12.9" dy="4.2">SHG</tspan><tspan dy="-4.2" dx="0.7" font-size="1">&#8203;</tspan> (<tspan font-family='"Liberation Serif", serif' font-size="22">&#945;</tspan>&#8800;0) &#8722; I<tspan font-size="12.9" dy="4.2">SHG</tspan><tspan dy="-4.2" dx="0.7" font-size="1">&#8203;</tspan> (<tspan font-family='"Liberation Serif", serif' font-size="22">&#945;</tspan>=0) @ I<tspan font-size="12.9" dy="4.2">FB,max</tspan><tspan dy="-4.2" dx="0.7" font-size="1">&#8203;</tspan></text>
<path d="M1225.3 405.3 H703.45 V784.95 H1225.3" fill="none" stroke="#000" stroke-width="2.0" stroke-linecap="square"/>
<line x1="732.44" y1="785.95" x2="732.44" y2="776.25" stroke="#000" stroke-width="1.8" />
<line x1="790.43" y1="785.95" x2="790.43" y2="776.25" stroke="#000" stroke-width="1.8" />
<line x1="848.41" y1="785.95" x2="848.41" y2="776.25" stroke="#000" stroke-width="1.8" />
<line x1="906.39" y1="785.95" x2="906.39" y2="776.25" stroke="#000" stroke-width="1.8" />
<line x1="964.38" y1="785.95" x2="964.38" y2="776.25" stroke="#000" stroke-width="1.8" />
<line x1="1022.36" y1="785.95" x2="1022.36" y2="776.25" stroke="#000" stroke-width="1.8" />
<line x1="1080.34" y1="785.95" x2="1080.34" y2="776.25" stroke="#000" stroke-width="1.8" />
<line x1="1138.33" y1="785.95" x2="1138.33" y2="776.25" stroke="#000" stroke-width="1.8" />
<line x1="1196.31" y1="785.95" x2="1196.31" y2="776.25" stroke="#000" stroke-width="1.8" />
<line x1="761.43" y1="785.95" x2="761.43" y2="780.35" stroke="#000" stroke-width="1.8" />
<line x1="819.42" y1="785.95" x2="819.42" y2="780.35" stroke="#000" stroke-width="1.8" />
<line x1="877.4" y1="785.95" x2="877.4" y2="780.35" stroke="#000" stroke-width="1.8" />
<line x1="935.38" y1="785.95" x2="935.38" y2="780.35" stroke="#000" stroke-width="1.8" />
<line x1="993.37" y1="785.95" x2="993.37" y2="780.35" stroke="#000" stroke-width="1.8" />
<line x1="1051.35" y1="785.95" x2="1051.35" y2="780.35" stroke="#000" stroke-width="1.8" />
<line x1="1109.33" y1="785.95" x2="1109.33" y2="780.35" stroke="#000" stroke-width="1.8" />
<line x1="1167.32" y1="785.95" x2="1167.32" y2="780.35" stroke="#000" stroke-width="1.8" />
<line x1="1225.3" y1="785.95" x2="1225.3" y2="780.35" stroke="#000" stroke-width="1.8" />
<line x1="725.14" y1="404.3" x2="725.14" y2="414" stroke="#000" stroke-width="1.8" />
<line x1="783.47" y1="404.3" x2="783.47" y2="414" stroke="#000" stroke-width="1.8" />
<line x1="843.32" y1="404.3" x2="843.32" y2="414" stroke="#000" stroke-width="1.8" />
<line x1="904.74" y1="404.3" x2="904.74" y2="414" stroke="#000" stroke-width="1.8" />
<line x1="967.8" y1="404.3" x2="967.8" y2="414" stroke="#000" stroke-width="1.8" />
<line x1="1032.57" y1="404.3" x2="1032.57" y2="414" stroke="#000" stroke-width="1.8" />
<line x1="1099.11" y1="404.3" x2="1099.11" y2="414" stroke="#000" stroke-width="1.8" />
<line x1="1167.5" y1="404.3" x2="1167.5" y2="414" stroke="#000" stroke-width="1.8" />
<line x1="754.12" y1="404.3" x2="754.12" y2="409.9" stroke="#000" stroke-width="1.8" />
<line x1="813.2" y1="404.3" x2="813.2" y2="409.9" stroke="#000" stroke-width="1.8" />
<line x1="873.83" y1="404.3" x2="873.83" y2="409.9" stroke="#000" stroke-width="1.8" />
<line x1="936.06" y1="404.3" x2="936.06" y2="409.9" stroke="#000" stroke-width="1.8" />
<line x1="999.97" y1="404.3" x2="999.97" y2="409.9" stroke="#000" stroke-width="1.8" />
<line x1="1065.61" y1="404.3" x2="1065.61" y2="409.9" stroke="#000" stroke-width="1.8" />
<line x1="1133.07" y1="404.3" x2="1133.07" y2="409.9" stroke="#000" stroke-width="1.8" />
<line x1="1202.41" y1="404.3" x2="1202.41" y2="409.9" stroke="#000" stroke-width="1.8" />
<line x1="702.45" y1="746.99" x2="715.25" y2="746.99" stroke="#000" stroke-width="1.8" />
<line x1="702.45" y1="671.06" x2="715.25" y2="671.06" stroke="#000" stroke-width="1.8" />
<line x1="702.45" y1="595.12" x2="715.25" y2="595.12" stroke="#000" stroke-width="1.8" />
<line x1="702.45" y1="519.2" x2="715.25" y2="519.2" stroke="#000" stroke-width="1.8" />
<line x1="702.45" y1="443.26" x2="715.25" y2="443.26" stroke="#000" stroke-width="1.8" />
<line x1="702.45" y1="709.02" x2="709.45" y2="709.02" stroke="#000" stroke-width="1.8" />
<line x1="702.45" y1="633.09" x2="709.45" y2="633.09" stroke="#000" stroke-width="1.8" />
<line x1="702.45" y1="557.16" x2="709.45" y2="557.16" stroke="#000" stroke-width="1.8" />
<line x1="702.45" y1="481.23" x2="709.45" y2="481.23" stroke="#000" stroke-width="1.8" />
<line x1="1225.3" y1="404.3" x2="1225.3" y2="785.95" stroke="#800080" stroke-width="2" />
<line x1="1226.3" y1="784.95" x2="1213.4" y2="784.95" stroke="#800080" stroke-width="1.8" />
<line x1="1226.3" y1="690.04" x2="1213.4" y2="690.04" stroke="#800080" stroke-width="1.8" />
<line x1="1226.3" y1="595.12" x2="1213.4" y2="595.12" stroke="#800080" stroke-width="1.8" />
<line x1="1226.3" y1="500.21" x2="1213.4" y2="500.21" stroke="#800080" stroke-width="1.8" />
<line x1="1226.3" y1="405.3" x2="1213.4" y2="405.3" stroke="#800080" stroke-width="1.8" />
<line x1="1226.3" y1="737.49" x2="1219.1" y2="737.49" stroke="#800080" stroke-width="1.8" />
<line x1="1226.3" y1="642.58" x2="1219.1" y2="642.58" stroke="#800080" stroke-width="1.8" />
<line x1="1226.3" y1="547.67" x2="1219.1" y2="547.67" stroke="#800080" stroke-width="1.8" />
<line x1="1226.3" y1="452.76" x2="1219.1" y2="452.76" stroke="#800080" stroke-width="1.8" />
<text x="727.24" y="806" font-size="18.3" text-anchor="middle" fill="#000" stroke="#000" font-weight="normal" >&#8722;40</text>
<text x="785.23" y="806" font-size="18.3" text-anchor="middle" fill="#000" stroke="#000" font-weight="normal" >&#8722;30</text>
<text x="843.21" y="806" font-size="18.3" text-anchor="middle" fill="#000" stroke="#000" font-weight="normal" >&#8722;20</text>
<text x="901.19" y="806" font-size="18.3" text-anchor="middle" fill="#000" stroke="#000" font-weight="normal" >&#8722;10</text>
<text x="964.38" y="806" font-size="18.3" text-anchor="middle" fill="#000" stroke="#000" font-weight="normal" >0</text>
<text x="1022.36" y="806" font-size="18.3" text-anchor="middle" fill="#000" stroke="#000" font-weight="normal" >10</text>
<text x="1080.34" y="806" font-size="18.3" text-anchor="middle" fill="#000" stroke="#000" font-weight="normal" >20</text>
<text x="1138.33" y="806" font-size="18.3" text-anchor="middle" fill="#000" stroke="#000" font-weight="normal" >30</text>
<text x="1196.31" y="806" font-size="18.3" text-anchor="middle" fill="#000" stroke="#000" font-weight="normal" >40</text>
<text x="724.34" y="397.2" font-size="18.3" text-anchor="middle" fill="#000" stroke="#000" font-weight="normal" >1580</text>
<text x="782.67" y="397.2" font-size="18.3" text-anchor="middle" fill="#000" stroke="#000" font-weight="normal" >1560</text>
<text x="842.52" y="397.2" font-size="18.3" text-anchor="middle" fill="#000" stroke="#000" font-weight="normal" >1540</text>
<text x="903.94" y="397.2" font-size="18.3" text-anchor="middle" fill="#000" stroke="#000" font-weight="normal" >1520</text>
<text x="967" y="397.2" font-size="18.3" text-anchor="middle" fill="#000" stroke="#000" font-weight="normal" >1500</text>
<text x="1031.77" y="397.2" font-size="18.3" text-anchor="middle" fill="#000" stroke="#000" font-weight="normal" >1480</text>
<text x="1098.31" y="397.2" font-size="18.3" text-anchor="middle" fill="#000" stroke="#000" font-weight="normal" >1460</text>
<text x="1166.7" y="397.2" font-size="18.3" text-anchor="middle" fill="#000" stroke="#000" font-weight="normal" >1440</text>
<text x="695.8" y="753.59" font-size="18.3" text-anchor="end" fill="#000" stroke="#000" font-weight="normal" >&#8722;4</text>
<text x="695.8" y="677.66" font-size="18.3" text-anchor="end" fill="#000" stroke="#000" font-weight="normal" >&#8722;2</text>
<text x="695.8" y="601.73" font-size="18.3" text-anchor="end" fill="#000" stroke="#000" font-weight="normal" >0</text>
<text x="695.8" y="525.8" font-size="18.3" text-anchor="end" fill="#000" stroke="#000" font-weight="normal" >2</text>
<text x="695.8" y="449.87" font-size="18.3" text-anchor="end" fill="#000" stroke="#000" font-weight="normal" >4</text>
<text x="1268.5" y="411.9" font-size="18.3" text-anchor="end" fill="#800080" stroke="#800080" font-weight="normal" >1.0</text>
<text x="1268.5" y="506.81" font-size="18.3" text-anchor="end" fill="#800080" stroke="#800080" font-weight="normal" >0.5</text>
<text x="1268.5" y="601.73" font-size="18.3" text-anchor="end" fill="#800080" stroke="#800080" font-weight="normal" >0.0</text>
<text x="1268.5" y="696.64" font-size="18.3" text-anchor="end" fill="#800080" stroke="#800080" font-weight="normal" >&#8722;0.5</text>
<text x="1268.5" y="791.55" font-size="18.3" text-anchor="end" fill="#800080" stroke="#800080" font-weight="normal" >&#8722;1.0</text>
<text x="964.6" y="827.9" font-size="18.6" text-anchor="middle" fill="#000" stroke="#000" font-weight="normal" >Detuning Energy (meV)</text>
<text x="967.4" y="370.9" font-size="18.6" text-anchor="middle" fill="#000" stroke="#000" font-weight="normal" >FB Wavelength (nm)</text>
<text transform="translate(664.4 595.4) rotate(-90)" font-size="18.6" text-anchor="middle" fill="#000" stroke="#000">SH Intensity Difference (W/cm<tspan font-size="13.3" dy="-7.3">2</tspan><tspan dy="7.3" font-size="1">&#8203;</tspan>)</text>
<text transform="translate(1289.2 595) rotate(-90)" font-size="18.6" text-anchor="middle" fill="#800080" stroke="#800080">Numerical SH Difference (arb. units.)</text>
<text x="637.4" y="357.6" font-size="18" text-anchor="start" fill="#000" stroke="#000" font-weight="bold" >d</text>
</svg>
</body></html>
